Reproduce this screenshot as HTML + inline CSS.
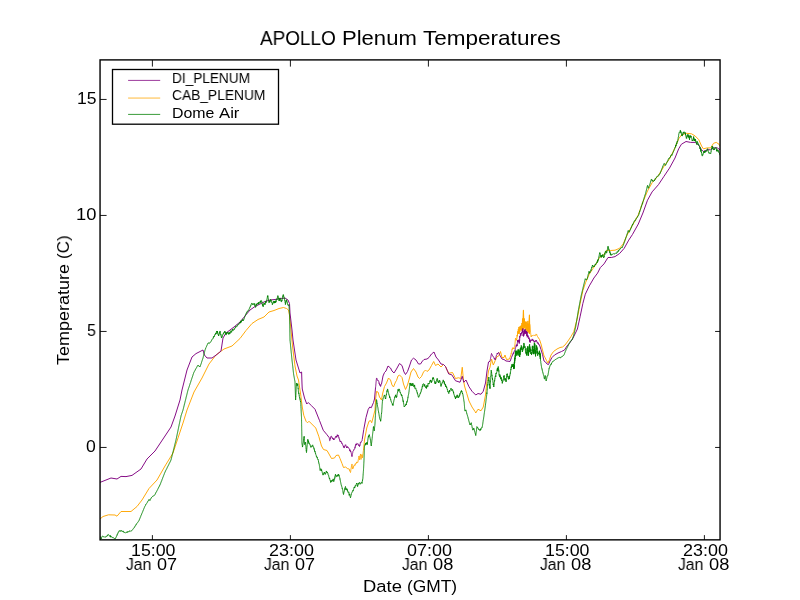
<!DOCTYPE html>
<html>
<head>
<meta charset="utf-8">
<title>APOLLO Plenum Temperatures</title>
<style>
html,body{margin:0;padding:0;background:#fff;}
body{width:800px;height:600px;position:relative;overflow:hidden;font-family:"Liberation Sans",sans-serif;color:#000;}
#fig{position:absolute;left:0;top:0;width:800px;height:600px;}
.t{position:absolute;white-space:pre;font-family:"Liberation Sans",sans-serif;color:#000;transform-origin:0 0;will-change:transform;}
svg polyline{fill:none;stroke-linejoin:round;stroke-linecap:butt;}
</style>
</head>
<body>
<svg id="fig" width="800" height="600" viewBox="0 0 800 600">
<rect x="0" y="0" width="800" height="600" fill="#ffffff"/>
<defs><clipPath id="ax"><rect x="100" y="60" width="620" height="480"/></clipPath></defs>
<g clip-path="url(#ax)" stroke-width="0.95">
<polyline stroke="#ffa500" points="100.00,519.00 103.00,516.50 108.50,514.80 115.00,515.00 117.00,516.20 121.00,511.50 131.00,511.50 137.00,506.50 142.00,500.00 149.00,488.50 157.00,480.00 165.00,466.00 173.00,453.00 183.00,423.00 187.00,410.00 194.00,392.00 202.00,378.00 209.00,364.00 216.00,355.00 224.00,349.00 232.00,346.00 240.00,338.50 246.00,330.50 252.00,323.50 258.00,319.50 264.00,317.00 269.00,312.00 274.00,310.50 279.00,308.50 283.50,307.50 286.50,308.50 288.50,310.00 289.50,315.00 291.00,330.00 292.50,346.00 295.00,366.00 297.00,376.00 298.50,380.00 300.75,395.00 302.25,407.00 303.75,415.25 306.00,421.25 307.50,422.75 309.00,421.25 312.75,425.00 315.75,428.00 318.75,436.25 321.50,446.00 323.50,449.50 327.00,450.50 329.00,454.00 331.50,458.50 334.50,458.00 336.00,455.50 338.50,455.00 340.00,458.50 342.00,463.50 343.50,467.50 345.50,467.00 347.50,468.50 347.83,468.96 348.17,468.81 348.50,468.63 348.83,469.18 349.17,469.06 349.50,470.01 349.67,470.92 349.83,470.65 350.00,471.02 350.17,471.85 350.33,472.22 350.50,472.51 350.56,471.93 350.63,471.68 350.69,471.39 350.75,470.63 350.82,470.37 350.88,469.71 350.95,469.41 351.01,468.91 351.07,468.78 351.14,468.19 351.20,468.02 351.28,467.63 351.36,467.16 351.44,466.26 351.52,466.29 351.60,465.99 351.68,465.62 351.76,464.87 351.84,464.70 351.92,464.19 352.00,463.97 352.04,464.55 352.08,464.73 352.12,465.25 352.17,465.78 352.21,466.01 352.25,466.49 352.29,466.93 352.33,467.34 352.38,467.60 352.42,468.18 352.46,468.75 352.50,468.82 352.67,468.95 352.83,468.27 353.00,467.58 353.17,468.23 353.33,467.36 353.50,466.19 353.67,466.31 353.83,466.12 354.00,465.46 354.29,465.68 354.57,464.88 354.86,465.10 355.14,465.33 355.43,463.61 355.71,463.92 356.00,463.41 356.29,463.30 356.57,462.12 356.86,462.25 357.14,462.22 357.43,462.68 357.71,462.56 358.00,461.42 358.08,460.92 358.15,460.78 358.23,459.84 358.31,459.72 358.38,459.37 358.46,459.21 358.54,458.67 358.62,458.05 358.69,457.62 358.77,457.22 358.85,457.15 358.92,456.34 359.00,455.99 359.06,456.50 359.11,456.87 359.17,457.30 359.22,457.61 359.28,458.22 359.33,458.60 359.39,459.28 359.44,459.65 359.50,460.00 359.57,459.69 359.64,459.08 359.71,458.91 359.79,458.28 359.86,457.96 359.93,457.19 360.00,457.06 360.07,456.26 360.14,455.77 360.21,455.66 360.29,455.12 360.36,454.89 360.43,454.84 360.50,453.97 360.54,454.35 360.58,454.87 360.62,455.33 360.65,455.67 360.69,456.09 360.73,456.62 360.77,457.02 360.81,457.26 360.85,457.80 360.88,458.23 360.92,458.53 360.96,459.11 361.00,459.45 361.08,459.29 361.17,458.71 361.25,458.27 361.33,457.71 361.42,457.39 361.50,456.57 361.58,456.34 361.67,456.24 361.75,455.30 361.83,455.51 361.92,454.54 362.00,454.54 362.06,454.80 362.12,455.50 362.19,455.83 362.25,456.00 362.31,456.89 362.38,457.36 362.44,457.55 362.50,457.99 362.56,457.53 362.61,456.97 362.67,456.83 362.72,456.14 362.78,455.77 362.83,455.22 362.89,454.80 362.94,454.26 363.00,454.19 363.06,453.53 363.11,453.25 363.17,452.67 363.22,452.12 363.28,451.73 363.33,451.25 363.39,450.89 363.44,450.39 363.50,450.00 364.50,440.00 366.75,428.00 369.00,421.25 370.50,420.50 371.70,422.75 373.50,416.00 375.00,410.00 375.50,400.00 376.50,391.50 378.00,392.00 379.50,397.00 381.50,400.00 382.50,394.00 384.50,386.50 386.50,383.00 388.50,378.00 390.50,380.00 392.00,385.00 393.50,387.00 395.50,382.00 396.50,380.50 398.00,376.00 399.50,375.00 402.00,377.50 403.50,384.00 405.50,389.50 407.50,385.00 409.50,378.00 411.00,372.00 413.50,368.50 416.00,372.00 418.00,377.00 419.50,378.50 421.50,376.50 423.50,372.00 425.50,370.00 427.00,371.50 429.00,370.00 431.50,365.50 433.70,361.50 435.50,365.50 438.00,364.00 441.00,367.00 443.50,364.50 445.50,366.50 447.50,371.00 448.75,373.25 452.50,372.50 455.50,378.50 458.50,377.75 460.75,378.50 462.25,367.25 463.30,378.50 464.50,386.00 466.75,393.50 469.00,401.00 472.00,407.00 475.00,411.50 475.75,413.00 478.00,409.25 481.00,410.75 483.25,407.00 485.50,395.00 487.00,381.50 488.50,371.00 490.00,367.25 491.50,359.00 493.30,365.00 495.25,360.50 496.75,356.75 498.70,356.00 500.50,351.50 502.00,357.50 504.00,357.50 505.00,355.00 506.50,359.50 509.50,359.00 511.00,354.47 511.10,353.64 511.20,353.38 511.30,353.71 511.40,352.56 511.50,352.01 511.60,352.00 511.70,351.90 511.80,350.59 511.90,350.54 512.00,349.97 512.10,349.19 512.20,349.53 512.30,348.86 512.40,348.46 512.50,347.80 512.80,348.61 513.10,347.91 513.40,348.47 513.70,347.80 514.00,348.90 514.08,348.95 514.17,348.03 514.25,347.83 514.33,347.32 514.42,346.80 514.50,346.36 514.58,346.26 514.67,345.58 514.75,345.21 514.83,344.84 514.92,344.74 515.00,344.03 515.04,343.63 515.07,343.06 515.11,342.52 515.14,342.42 515.18,341.99 515.21,341.41 515.25,341.08 515.29,340.68 515.32,340.26 515.36,339.85 515.39,339.22 515.43,339.07 515.46,338.25 515.50,338.23 515.75,338.68 516.00,339.25 516.25,340.39 516.50,338.95 516.80,339.27 517.10,334.98 517.40,336.26 517.70,331.35 518.00,333.76 518.30,329.19 518.60,333.59 518.90,326.96 519.20,333.91 519.50,327.23 519.80,331.93 520.10,326.13 520.40,329.74 520.70,325.92 521.00,330.44 521.30,325.31 521.60,330.39 521.90,323.06 522.20,330.16 522.50,318.52 522.80,329.94 523.10,319.51 523.40,329.13 523.70,318.06 524.00,325.79 524.30,318.61 524.60,328.38 524.90,321.23 525.20,326.64 525.50,321.86 525.80,330.42 526.10,325.04 526.40,329.60 526.70,321.68 527.00,331.78 527.30,323.44 527.60,331.41 527.90,320.89 528.20,332.73 528.50,324.17 528.80,332.02 529.10,323.23 529.40,334.01 529.70,324.34 529.75,324.69 529.79,325.09 529.84,325.67 529.89,326.00 529.93,326.49 529.98,326.98 530.02,327.27 530.07,327.68 530.12,328.25 530.16,328.67 530.21,329.09 530.26,329.54 530.30,329.93 530.35,330.32 530.40,330.84 530.44,331.22 530.49,331.62 530.54,332.18 530.58,332.58 530.63,333.04 530.67,333.40 530.72,333.85 530.77,334.27 530.81,334.71 530.86,335.21 530.91,335.59 530.95,336.09 531.00,336.53 531.33,336.89 531.67,335.65 532.00,336.12 532.33,335.61 532.67,335.41 533.00,335.07 533.40,335.12 533.80,335.54 534.20,335.36 534.60,335.46 535.00,335.47 535.30,335.65 535.60,335.09 535.90,334.24 536.20,334.49 536.50,334.39 536.70,334.28 536.90,335.20 537.10,335.95 537.30,336.11 537.50,336.50 539.50,339.50 541.00,344.00 542.50,350.00 544.00,356.00 545.00,357.50 546.50,360.50 548.00,363.00 549.50,359.50 551.00,355.00 553.50,351.50 557.00,349.00 560.00,347.50 562.50,347.00 565.00,345.00 568.00,341.00 571.00,336.50 573.75,331.75 577.40,318.00 580.20,303.30 582.90,290.50 585.70,282.25 589.30,274.00 593.00,268.50 596.70,263.00 599.40,257.50 603.10,255.70 606.75,250.20 610.40,250.50 615.00,250.20 619.60,248.30 623.25,243.75 626.90,235.50 629.70,230.00 633.75,223.10 638.30,214.80 642.90,202.00 647.50,191.00 652.10,182.75 658.50,175.40 664.00,166.25 669.50,158.90 675.00,147.90 678.70,138.75 681.40,135.10 686.00,133.25 691.50,133.80 695.20,136.00 698.80,139.70 701.60,146.10 703.40,148.80 707.10,147.90 710.75,147.90 713.50,143.30 716.25,142.40 719.00,144.25 720.00,146.10"/>
<polyline stroke="#ffa500" stroke-width="1.1" points="523.00,322.00 523.40,310.20 523.80,322.00"/><polyline stroke="#ffa500" stroke-width="1.1" points="529.00,324.00 529.40,315.00 529.80,332.00"/>
<polyline stroke="#800080" points="100.00,482.40 106.00,480.00 111.00,478.00 117.00,479.00 121.00,476.40 126.00,476.60 132.00,475.40 141.00,469.00 147.00,459.00 155.00,451.00 161.00,442.00 171.00,427.00 175.00,416.00 180.00,400.00 182.00,390.00 187.00,370.00 192.00,357.00 196.00,353.60 203.00,350.00 204.40,355.00 207.00,358.00 212.00,358.00 217.00,354.40 221.00,351.00 223.00,338.00 226.00,333.00 234.00,327.00 240.00,322.00 245.00,316.00 250.00,310.00 255.00,306.50 260.00,304.00 265.00,301.50 270.00,300.00 275.00,299.50 280.00,298.50 285.00,298.00 288.00,300.00 289.50,303.50 290.00,313.00 292.00,330.00 293.00,340.00 296.00,360.00 300.00,373.00 301.60,372.00 302.00,384.00 302.25,389.00 304.50,398.00 306.75,404.00 308.25,402.50 311.25,405.50 315.00,409.25 319.50,420.50 323.25,430.25 327.00,434.75 329.25,437.71 329.31,437.95 329.38,438.56 329.44,439.11 329.51,439.66 329.57,439.91 329.64,440.23 329.70,440.67 329.84,440.58 329.97,440.46 330.11,439.61 330.25,438.72 330.38,438.40 330.52,438.81 330.65,437.95 330.79,436.92 330.93,437.04 331.06,436.28 331.20,436.15 331.43,436.32 331.66,436.54 331.90,437.58 332.13,437.58 332.36,437.63 332.59,438.52 332.82,439.09 333.05,438.08 333.29,439.18 333.52,439.12 333.75,439.97 334.00,438.92 334.25,439.35 334.50,438.98 334.75,438.49 335.00,437.72 335.25,437.77 335.50,437.03 335.75,436.55 336.00,437.05 336.32,436.01 336.64,437.39 336.96,436.86 337.29,434.74 337.61,436.12 337.93,434.94 338.25,435.50 338.37,435.93 338.48,435.78 338.60,436.68 338.72,437.09 338.83,437.85 338.95,437.67 339.07,438.62 339.18,438.53 339.30,439.19 339.55,439.11 339.79,440.75 340.04,440.59 340.28,441.99 340.53,441.32 340.77,441.77 341.02,442.11 341.26,441.63 341.51,442.28 341.75,443.42 342.00,442.96 342.17,443.49 342.33,443.83 342.50,444.48 342.67,444.53 342.83,445.03 343.00,445.59 343.17,445.96 343.33,446.01 343.50,447.08 343.67,446.68 343.83,447.14 344.00,447.83 344.19,448.05 344.38,447.09 344.56,446.45 344.75,446.00 344.94,446.31 345.12,445.28 345.31,444.81 345.50,445.08 345.69,444.85 345.88,445.61 346.06,446.12 346.25,446.30 346.44,446.85 346.62,447.84 346.81,447.40 347.00,447.74 347.25,446.50 347.50,447.36 347.75,447.01 348.00,447.04 348.21,447.12 348.43,447.47 348.64,447.71 348.86,448.17 349.07,448.87 349.29,448.95 349.50,449.52 349.71,450.81 349.93,450.46 350.14,449.78 350.36,451.80 350.57,451.46 350.79,451.17 351.00,452.06 351.09,452.41 351.18,452.68 351.27,453.08 351.36,453.41 351.45,454.06 351.55,454.70 351.64,454.79 351.73,455.37 351.82,456.12 351.91,455.81 352.00,456.52 352.08,456.02 352.15,455.44 352.23,455.03 352.31,454.80 352.38,454.47 352.46,453.86 352.54,453.55 352.62,453.26 352.69,452.75 352.77,452.44 352.85,451.94 352.92,451.52 353.00,451.32 353.25,451.03 353.50,450.41 353.75,450.41 354.00,449.13 354.25,449.14 354.50,449.07 354.62,448.77 354.75,448.63 354.88,447.75 355.00,446.90 355.12,447.49 355.25,446.82 355.38,445.77 355.50,446.07 355.62,445.26 355.75,444.30 355.88,444.29 356.00,443.89 356.40,445.11 356.80,443.45 357.20,443.82 357.60,443.81 358.00,443.94 358.21,443.90 358.43,444.82 358.64,445.61 358.86,445.74 359.07,445.32 359.29,445.56 359.50,446.51 359.60,445.92 359.70,445.54 359.80,444.87 359.90,445.40 360.00,444.73 360.10,443.85 360.20,443.93 360.30,443.64 360.40,442.29 360.50,442.39 360.80,441.94 361.10,442.34 361.40,441.52 361.70,441.14 362.00,441.00 362.06,440.87 362.12,440.48 362.19,439.60 362.25,439.25 363.75,429.50 366.00,417.50 368.25,409.25 369.75,407.00 371.25,407.75 373.50,402.50 374.50,399.00 375.50,387.97 375.54,387.85 375.59,387.03 375.63,386.63 375.67,386.26 375.72,385.88 375.76,385.50 375.80,385.00 375.85,384.43 375.89,384.14 375.93,383.68 375.98,383.42 376.02,382.78 376.07,382.20 376.11,381.80 376.15,381.63 376.20,380.99 376.24,380.38 376.28,380.11 376.33,379.74 376.37,379.43 376.41,378.76 376.46,378.51 376.50,378.11 376.72,378.01 376.94,378.58 377.17,379.82 377.39,380.13 377.61,380.06 377.83,380.15 378.06,380.86 378.28,380.60 378.50,380.99 378.64,381.14 378.79,381.79 378.93,382.15 379.07,383.39 379.21,382.91 379.36,383.73 379.50,384.14 379.64,384.09 379.79,384.88 379.93,384.28 380.07,385.35 380.21,385.97 380.36,385.40 380.50,386.39 380.67,386.42 380.83,385.58 381.00,384.90 381.17,384.71 381.33,384.24 381.50,384.00 383.00,376.00 384.50,372.50 386.00,371.00 388.00,366.00 390.50,368.00 392.00,371.00 394.00,373.00 396.50,369.00 399.50,363.50 402.00,365.50 404.00,372.00 405.50,374.50 407.50,371.50 409.50,366.00 411.50,360.00 413.50,358.20 416.00,360.00 418.50,364.00 420.50,364.00 422.50,361.00 424.00,359.50 427.00,359.00 429.00,357.50 431.50,354.00 434.00,352.00 436.00,357.00 438.50,360.00 441.00,364.00 443.50,364.50 445.50,366.50 447.50,371.00 448.75,374.00 451.75,374.75 455.50,380.75 460.00,382.25 462.25,376.25 463.75,382.25 466.00,380.00 469.00,386.75 472.00,391.25 475.75,395.00 478.00,393.50 481.00,394.25 483.25,391.25 485.50,383.00 487.00,371.00 488.50,362.00 490.00,361.28 490.08,360.89 490.17,360.35 490.25,359.86 490.33,359.52 490.42,359.29 490.50,358.72 490.58,358.33 490.67,357.78 490.75,357.18 490.83,356.84 490.92,356.61 491.00,356.10 491.08,355.52 491.17,354.98 491.25,354.81 491.33,354.31 491.42,353.88 491.50,353.47 491.72,353.99 491.94,354.38 492.17,355.00 492.39,355.38 492.61,355.91 492.83,356.11 493.06,356.11 493.28,356.59 493.50,357.06 493.72,357.23 493.94,357.89 494.16,358.46 494.38,358.08 494.59,358.06 494.81,359.51 495.03,359.41 495.25,359.79 495.36,359.06 495.48,359.22 495.59,358.60 495.70,358.00 495.82,357.52 495.93,357.18 496.05,356.70 496.16,356.24 496.27,355.65 496.39,355.67 496.50,354.99 496.75,354.72 497.00,354.42 497.25,353.05 497.50,353.98 497.75,353.30 498.00,353.00 498.25,352.84 498.50,352.41 498.69,353.14 498.88,353.03 499.06,353.34 499.25,353.73 499.44,354.43 499.62,354.99 499.81,354.94 500.00,355.50 502.00,359.00 504.00,359.50 506.00,361.00 508.00,361.20 510.00,361.50 511.50,357.50 513.00,353.77 513.20,354.14 513.40,352.66 513.60,353.40 513.80,352.37 514.00,351.65 514.20,351.28 514.40,351.43 514.60,351.25 514.80,350.30 515.00,350.10 515.12,350.29 515.25,349.10 515.38,348.36 515.50,347.98 515.62,347.45 515.75,347.28 515.88,346.84 516.00,346.22 516.12,346.43 516.25,344.95 516.38,344.97 516.50,345.91 516.65,346.16 516.80,344.98 516.95,344.49 517.10,346.06 517.25,343.80 517.40,342.72 517.55,340.35 517.70,341.69 517.85,340.30 518.00,340.68 518.25,340.18 518.50,341.43 518.75,341.26 519.00,342.39 519.08,339.59 519.17,340.91 519.25,343.54 519.33,340.39 519.42,341.71 519.50,341.21 519.58,341.06 519.67,339.77 519.75,336.18 519.83,337.43 519.92,336.85 520.00,336.30 520.19,335.93 520.38,334.37 520.56,333.38 520.75,335.82 520.94,335.06 521.12,333.72 521.31,332.95 521.50,333.76 521.61,333.02 521.72,332.61 521.83,332.75 521.94,331.79 522.06,332.64 522.17,332.45 522.28,331.81 522.39,329.89 522.50,330.22 522.58,331.58 522.65,331.05 522.73,331.70 522.81,328.45 522.88,328.57 522.96,333.54 523.04,333.96 523.12,335.97 523.19,335.39 523.27,335.06 523.35,335.18 523.42,333.44 523.50,336.40 523.57,334.67 523.64,335.90 523.71,335.01 523.79,334.69 523.86,335.20 523.93,332.69 524.00,332.42 524.07,331.29 524.14,331.58 524.21,334.21 524.29,330.74 524.36,332.64 524.43,331.67 524.50,330.33 524.75,331.54 525.00,329.15 525.25,331.56 525.50,333.72 525.75,330.62 526.00,331.98 526.19,331.34 526.38,333.23 526.56,331.51 526.75,335.91 526.94,333.31 527.12,331.94 527.31,337.31 527.50,335.44 527.69,336.15 527.88,336.55 528.06,335.59 528.25,336.17 528.44,337.96 528.62,338.63 528.81,339.02 529.00,338.10 529.17,337.69 529.33,338.49 529.50,340.83 529.67,341.72 529.83,339.43 530.00,339.62 530.17,342.59 530.33,342.20 530.50,341.67 530.83,340.20 531.17,340.70 531.50,340.34 531.83,340.67 532.17,338.90 532.50,340.31 532.83,340.49 533.17,340.85 533.50,339.80 533.83,340.98 534.17,342.32 534.50,341.12 534.90,341.54 535.30,341.66 535.70,340.35 536.10,341.35 536.50,340.44 536.71,341.56 536.93,341.52 537.14,341.70 537.36,343.08 537.57,342.76 537.79,343.40 538.00,342.76 538.25,342.90 538.50,344.22 538.75,344.60 539.00,344.30 539.25,345.18 539.50,345.00 541.00,349.50 542.50,354.50 544.00,361.00 545.50,362.00 547.00,364.00 548.50,364.50 550.00,361.00 552.00,357.50 554.50,355.00 558.00,353.00 561.50,351.50 564.50,350.00 567.00,346.00 570.00,342.50 572.50,339.00 574.50,335.00 577.40,329.00 580.20,316.20 582.90,303.30 585.30,294.20 589.30,285.90 593.90,278.00 597.60,273.10 600.30,267.60 604.00,263.90 608.00,257.50 611.30,257.50 615.00,256.60 619.60,253.50 624.20,248.30 628.75,240.10 632.40,234.60 638.30,224.00 642.90,213.00 647.50,200.20 652.10,191.90 658.50,184.60 664.00,176.30 669.50,168.10 675.00,158.00 678.70,148.80 681.40,144.25 686.00,141.50 690.60,142.40 695.20,142.40 698.80,145.20 701.60,149.75 703.40,151.60 707.10,149.75 710.75,149.75 713.50,147.90 717.20,147.90 720.00,149.75"/>
<polyline stroke="#008000" points="100.50,536.57 100.58,536.64 100.67,537.38 100.75,537.69 100.83,538.12 100.92,538.56 101.00,538.89 101.17,538.54 101.33,538.01 101.50,538.37 101.67,537.38 101.83,536.85 102.00,536.47 102.44,536.32 102.89,536.24 103.33,536.53 103.78,536.89 104.22,536.69 104.67,537.17 105.11,536.82 105.56,536.95 106.00,537.14 106.25,536.85 106.50,536.22 106.75,536.01 107.00,535.91 107.25,536.02 107.50,535.04 107.75,534.74 108.00,534.61 108.33,534.47 108.67,534.95 109.00,535.64 109.33,535.81 109.67,535.92 110.00,536.40 110.33,535.45 110.67,537.08 111.00,536.90 111.41,536.55 111.82,537.37 112.23,537.65 112.64,537.39 113.05,537.31 113.45,537.83 113.86,537.94 114.27,538.58 114.68,538.49 115.09,538.43 115.50,538.57 115.68,538.06 115.87,537.52 116.05,537.44 116.24,537.04 116.42,536.48 116.61,535.97 116.79,535.78 116.97,534.82 117.16,535.09 117.34,534.66 117.53,533.81 117.71,533.78 117.89,533.17 118.08,533.13 118.26,532.15 118.45,531.99 118.63,531.94 118.82,531.64 119.00,530.77 119.42,530.79 119.83,531.05 120.25,530.69 120.67,531.42 121.08,530.42 121.50,530.84 121.90,530.63 122.30,531.69 122.70,531.39 123.10,531.47 123.50,531.20 123.90,532.59 124.30,532.46 124.70,532.66 125.10,533.00 125.50,532.84 125.91,532.43 126.31,532.23 126.72,532.09 127.12,532.70 127.53,531.57 127.94,531.73 128.34,531.68 128.75,531.73 129.16,531.71 129.56,530.93 129.97,530.61 130.38,531.07 130.78,531.36 131.19,531.05 131.59,530.72 132.00,530.48 132.25,530.19 132.50,529.75 132.75,529.56 133.00,528.95 133.25,528.74 133.50,528.34 133.75,528.09 134.00,527.68 134.25,527.69 134.50,527.17 134.75,526.81 135.00,525.89 135.25,525.80 135.50,525.40 135.75,525.23 136.00,524.42 136.25,524.62 136.50,524.24 136.75,523.51 137.00,523.20 137.25,522.87 137.50,522.65 137.75,522.39 138.00,522.25 138.25,521.54 138.50,521.34 138.75,520.88 139.00,520.56 139.17,520.17 139.34,519.82 139.51,519.14 139.69,518.82 139.86,518.34 140.03,518.18 140.20,517.67 140.37,517.15 140.54,516.72 140.71,516.41 140.89,515.87 141.06,515.43 141.23,515.17 141.40,514.97 141.57,514.26 141.74,513.81 141.91,513.33 142.09,512.90 142.26,512.69 142.43,512.31 142.60,511.80 142.77,511.42 142.94,510.98 143.11,510.57 143.29,509.98 143.46,509.68 143.63,509.33 143.80,508.81 143.97,508.43 144.14,507.98 144.31,507.62 144.49,507.34 144.66,506.78 144.83,506.40 145.00,506.04 145.24,505.71 145.47,505.48 145.71,504.55 145.94,504.60 146.18,504.02 146.41,503.73 146.65,503.45 146.88,503.10 147.12,502.71 147.35,502.20 147.59,502.03 147.82,501.37 148.06,501.01 148.29,500.76 148.53,500.18 148.76,500.20 149.00,499.56 149.25,500.17 149.50,499.99 149.75,500.18 150.00,500.51 150.17,500.16 150.33,499.60 150.50,499.29 150.67,498.83 150.83,498.59 151.00,497.96 151.33,497.92 151.67,497.29 152.00,496.93 152.33,496.69 152.67,496.30 153.00,496.28 153.33,496.16 153.67,495.70 154.00,495.50 154.33,495.41 154.67,494.85 155.00,494.51 155.21,494.07 155.42,493.50 155.62,493.41 155.83,492.69 156.04,492.61 156.25,492.12 156.46,491.88 156.67,491.32 156.88,490.83 157.08,490.59 157.29,490.07 157.50,489.73 157.71,489.36 157.92,488.94 158.12,488.54 158.33,488.06 158.54,487.75 158.75,487.09 158.96,486.96 159.17,486.43 159.38,486.33 159.58,485.96 159.79,485.14 160.00,485.00 160.16,484.57 160.32,484.05 160.48,483.80 160.65,483.27 160.81,482.72 160.97,482.46 161.13,482.05 161.29,481.66 161.45,481.10 161.61,480.87 161.77,480.46 161.94,479.85 162.10,479.48 162.26,479.12 162.42,478.65 162.58,478.47 162.74,477.89 162.90,477.35 163.06,476.95 163.23,476.61 163.39,476.43 163.55,475.76 163.71,475.37 163.87,474.99 164.03,474.51 164.19,474.33 164.35,473.62 164.52,473.33 164.68,472.86 164.84,472.48 165.00,471.96 165.20,471.82 165.40,471.18 165.60,470.80 165.80,470.28 166.00,469.91 166.20,469.67 166.40,469.32 166.60,468.90 166.80,468.55 167.00,468.09 167.20,467.60 167.40,467.31 167.60,466.87 167.80,466.39 168.00,466.09 168.20,465.76 168.40,465.23 168.60,464.76 168.80,464.49 169.00,464.24 169.20,463.57 169.40,463.19 169.60,462.78 169.80,462.55 170.00,461.77 170.20,461.65 170.40,461.35 170.60,460.70 170.80,460.59 171.00,460.01 171.11,459.53 171.22,459.15 171.33,458.58 171.43,458.22 171.54,457.96 171.65,457.33 171.76,457.09 171.87,456.52 171.98,456.16 172.09,455.66 172.20,455.05 172.30,454.74 172.41,454.36 172.52,453.83 172.63,453.38 172.74,453.07 172.85,452.56 172.96,452.05 173.07,451.69 173.17,451.37 173.28,450.83 173.39,450.50 173.50,450.11 173.61,449.57 173.72,449.05 173.83,448.60 173.93,448.26 174.04,447.89 174.15,447.41 174.26,447.00 174.37,446.49 174.48,446.11 174.59,445.62 174.70,445.19 174.80,444.69 174.91,444.23 175.02,443.88 175.13,443.40 175.24,442.97 175.35,442.66 175.46,442.17 175.57,441.95 175.67,441.37 175.78,440.82 175.89,440.49 176.00,440.01 176.09,439.52 176.18,439.20 176.27,438.64 176.36,438.06 176.45,437.87 176.55,437.34 176.64,437.04 176.73,436.47 176.82,436.00 176.91,435.73 177.00,435.13 177.09,434.78 177.18,434.42 177.27,433.90 177.36,433.45 177.45,433.02 177.55,432.63 177.64,432.09 177.73,431.75 177.82,431.31 177.91,430.98 178.00,430.38 178.09,429.91 178.18,429.57 178.27,429.07 178.36,428.67 178.45,428.23 178.55,427.86 178.64,427.30 178.73,426.90 178.82,426.31 178.91,425.98 179.00,425.70 179.09,425.12 179.18,424.68 179.27,424.21 179.36,423.89 179.45,423.43 179.55,422.91 179.64,422.59 179.73,422.13 179.82,421.72 179.91,421.20 180.00,420.91 180.09,420.39 180.18,419.92 180.27,419.46 180.36,419.04 180.45,418.67 180.55,418.16 180.64,417.81 180.73,417.35 180.82,416.96 180.91,416.49 181.00,416.00 181.13,415.42 181.27,415.23 181.40,414.87 181.53,414.42 181.67,414.05 181.80,413.56 181.93,413.16 182.07,412.71 182.20,412.53 182.33,412.01 182.47,411.55 182.60,411.08 182.73,410.79 182.87,410.53 183.00,410.01 183.11,409.51 183.22,409.23 183.33,408.80 183.43,408.33 183.54,407.88 183.65,407.48 183.76,407.00 183.87,406.58 183.98,406.03 184.09,405.76 184.20,405.23 184.30,404.93 184.41,404.20 184.52,403.96 184.63,403.55 184.74,403.02 184.85,402.64 184.96,402.23 185.07,401.78 185.17,401.26 185.28,400.86 185.39,400.51 185.50,400.09 185.61,399.57 185.72,399.14 185.83,398.71 185.93,398.34 186.04,397.75 186.15,397.29 186.26,396.97 186.37,396.44 186.48,396.04 186.59,395.66 186.70,395.25 186.80,394.70 186.91,394.41 187.02,393.78 187.13,393.52 187.24,392.93 187.35,392.52 187.46,392.22 187.57,391.71 187.67,391.25 187.78,390.84 187.89,390.47 188.00,390.00 188.14,389.58 188.28,389.26 188.42,388.68 188.56,388.28 188.70,387.86 188.84,387.60 188.98,387.16 189.12,386.77 189.26,386.23 189.40,385.80 189.53,385.47 189.67,384.94 189.81,384.63 189.95,384.21 190.09,383.66 190.23,383.29 190.37,382.87 190.51,382.62 190.65,382.29 190.79,381.62 190.93,381.21 191.07,380.58 191.21,380.39 191.35,379.95 191.49,379.44 191.63,379.19 191.77,378.55 191.91,378.26 192.05,377.87 192.19,377.33 192.33,377.10 192.47,376.70 192.60,376.06 192.74,375.64 192.88,375.40 193.02,374.93 193.16,374.40 193.30,374.07 193.44,373.66 193.58,373.24 193.72,372.91 193.86,372.45 194.00,372.07 194.22,371.80 194.44,371.32 194.67,370.98 194.89,370.63 195.11,370.15 195.33,369.50 195.56,369.40 195.78,368.90 196.00,368.73 196.22,368.12 196.44,367.80 196.67,367.38 196.89,367.18 197.11,366.58 197.33,366.13 197.56,365.82 197.78,365.33 198.00,365.01 198.29,365.28 198.57,365.62 198.86,366.23 199.14,366.06 199.43,366.44 199.71,366.68 200.00,367.02 200.14,366.48 200.27,366.12 200.41,365.77 200.55,365.41 200.68,364.95 200.82,364.50 200.95,364.06 201.09,363.77 201.23,363.45 201.36,362.94 201.50,362.52 201.64,362.13 201.77,361.59 201.91,361.24 202.05,360.84 202.18,360.48 202.32,360.04 202.45,359.52 202.59,359.33 202.73,358.97 202.86,358.38 203.00,358.01 203.11,357.60 203.21,357.22 203.32,356.63 203.42,356.43 203.53,355.86 203.63,355.57 203.74,355.06 203.84,354.60 203.95,354.20 204.05,353.86 204.16,353.31 204.26,352.92 204.37,352.49 204.47,351.98 204.58,351.78 204.68,351.31 204.79,350.84 204.89,350.51 205.00,349.97 205.18,349.58 205.35,349.37 205.53,348.87 205.71,348.10 205.88,347.57 206.06,347.41 206.24,347.24 206.41,346.65 206.59,346.27 206.76,345.95 206.94,345.37 207.12,345.08 207.29,344.74 207.47,344.29 207.65,343.87 207.82,343.34 208.00,343.03 208.40,342.91 208.80,343.26 209.20,343.51 209.60,342.85 210.00,342.91 210.23,342.55 210.46,342.28 210.69,342.00 210.92,341.62 211.15,340.96 211.38,340.58 211.62,340.49 211.85,339.77 212.08,339.70 212.31,339.12 212.54,338.88 212.77,338.49 213.00,338.17 213.24,338.23 213.47,336.52 213.71,337.09 213.94,336.50 214.18,336.35 214.41,336.65 214.65,335.16 214.88,334.46 215.12,334.07 215.35,334.01 215.59,334.42 215.82,332.88 216.06,333.96 216.29,332.94 216.53,332.19 216.76,330.99 217.00,331.65 217.22,332.47 217.44,331.10 217.67,333.58 217.89,334.28 218.11,333.73 218.33,334.22 218.56,335.96 218.78,335.50 219.00,334.90 219.10,334.59 219.20,334.14 219.30,333.74 219.40,332.54 219.50,333.28 219.60,332.37 219.70,332.26 219.80,331.75 219.90,331.72 220.00,330.97 220.10,331.17 220.20,332.06 220.30,332.79 220.40,332.64 220.50,333.65 220.60,333.71 220.70,333.88 220.80,335.02 220.90,334.66 221.00,335.72 221.10,335.64 221.20,336.40 221.30,336.27 221.40,336.84 221.50,337.92 221.60,338.03 221.76,337.62 221.92,336.97 222.08,337.04 222.24,335.66 222.40,335.40 222.56,335.52 222.72,334.76 222.88,334.43 223.04,334.36 223.20,333.93 223.36,333.48 223.52,334.09 223.68,333.34 223.84,333.06 224.00,331.99 224.29,331.90 224.57,331.40 224.86,332.72 225.14,331.53 225.43,333.20 225.71,334.73 226.00,334.79 226.25,334.83 226.50,333.01 226.75,333.75 227.00,332.36 227.25,333.31 227.50,332.21 227.75,332.64 228.00,332.37 228.33,332.76 228.67,334.40 229.00,332.48 229.33,332.20 229.67,334.10 230.00,333.50 230.31,332.15 230.62,332.46 230.92,330.69 231.23,331.58 231.54,332.32 231.85,331.07 232.15,330.29 232.46,329.17 232.77,330.59 233.08,330.70 233.38,330.19 233.69,329.56 234.00,328.83 234.31,329.46 234.62,328.35 234.94,328.00 235.25,328.07 235.56,326.49 235.88,327.10 236.19,326.75 236.50,326.66 236.81,326.78 237.12,326.08 237.44,324.76 237.75,325.10 238.06,325.03 238.38,324.69 238.69,323.75 239.00,323.79 239.29,323.90 239.57,323.50 239.86,323.03 240.14,322.00 240.43,323.12 240.71,320.88 241.00,321.60 241.29,322.29 241.57,321.04 241.86,320.88 242.14,319.98 242.43,320.70 242.71,319.29 243.00,319.52 243.17,319.87 243.33,319.87 243.50,320.56 243.65,319.78 243.79,319.53 243.94,319.26 244.09,318.76 244.24,318.54 244.38,318.23 244.53,317.55 244.68,317.09 244.82,316.68 244.97,316.30 245.12,316.15 245.26,315.51 245.41,315.24 245.56,314.72 245.71,314.14 245.85,314.10 246.00,313.38 246.28,313.17 246.56,313.42 246.83,312.07 247.11,312.14 247.39,311.20 247.67,311.30 247.94,310.57 248.22,310.69 248.50,310.46 248.68,310.14 248.86,310.13 249.04,309.40 249.21,309.10 249.39,308.52 249.57,308.08 249.75,307.53 249.93,306.88 250.11,306.98 250.29,307.00 250.46,306.30 250.64,305.64 250.82,305.83 251.00,304.87 251.30,304.18 251.60,303.39 251.90,303.44 252.20,303.95 252.50,304.60 252.80,303.99 253.10,303.37 253.40,303.99 253.70,304.58 254.00,304.76 254.12,304.68 254.25,304.57 254.38,304.02 254.50,303.57 254.60,303.43 254.70,303.68 254.80,305.17 254.90,305.50 255.00,304.94 255.10,305.98 255.20,306.31 255.30,306.90 255.40,307.18 255.50,307.42 255.67,307.22 255.83,306.81 256.00,306.31 256.17,304.90 256.33,303.87 256.50,304.72 256.67,303.86 256.83,304.53 257.00,304.21 257.33,304.04 257.67,303.19 258.00,303.40 258.33,304.28 258.67,302.16 259.00,303.59 259.33,303.15 259.67,302.48 260.00,302.44 260.30,301.08 260.60,302.54 260.90,300.47 261.20,300.43 261.50,300.87 261.62,301.61 261.75,301.44 261.88,302.27 262.00,302.19 262.12,303.53 262.25,304.28 262.38,304.01 262.50,305.03 262.62,304.99 262.75,306.09 262.88,305.63 263.00,305.66 263.21,306.71 263.43,305.19 263.64,304.18 263.86,304.10 264.07,303.05 264.29,303.74 264.50,303.18 264.88,304.86 265.25,303.91 265.62,301.46 266.00,302.84 266.10,302.38 266.20,301.49 266.30,301.71 266.40,301.32 266.50,300.64 266.60,300.31 266.70,300.26 266.80,300.17 266.90,299.78 267.00,298.85 267.10,298.72 267.20,297.74 267.30,297.73 267.40,296.83 267.50,297.01 267.60,295.90 267.70,295.58 267.80,295.50 267.88,296.09 267.95,295.99 268.03,296.67 268.10,297.29 268.18,297.75 268.25,297.90 268.32,298.59 268.40,298.93 268.48,299.82 268.55,300.03 268.62,299.96 268.70,300.16 268.77,301.21 268.85,301.94 268.93,302.11 269.00,302.73 269.25,301.77 269.50,300.70 269.75,302.21 270.00,301.34 270.25,301.53 270.50,299.43 270.75,300.47 271.00,299.91 271.14,300.78 271.27,300.55 271.41,300.95 271.55,301.37 271.68,302.63 271.82,302.47 271.95,302.51 272.09,302.80 272.23,303.20 272.36,304.77 272.50,304.28 272.61,303.76 272.72,303.98 272.83,303.81 272.94,302.88 273.06,302.88 273.17,302.48 273.28,302.18 273.39,301.41 273.50,301.41 273.75,301.51 274.00,302.95 274.25,301.10 274.50,303.13 274.75,301.64 275.00,302.72 275.19,302.96 275.38,301.75 275.56,302.18 275.75,300.84 275.94,302.16 276.12,300.78 276.31,299.68 276.50,300.03 276.65,300.07 276.80,298.83 276.95,299.08 277.10,299.46 277.25,298.46 277.40,297.62 277.55,296.94 277.70,297.12 277.85,295.66 278.00,295.73 278.08,296.23 278.17,296.52 278.25,297.80 278.33,297.73 278.42,297.80 278.50,298.16 278.58,299.09 278.67,299.10 278.75,299.59 278.83,300.16 278.92,300.63 279.00,301.02 279.12,300.71 279.25,300.88 279.38,300.69 279.50,298.77 279.62,300.35 279.75,298.84 279.88,298.98 280.00,297.90 280.15,298.60 280.30,298.95 280.45,299.29 280.60,300.07 280.75,300.36 280.90,299.93 281.05,300.78 281.20,301.61 281.35,301.99 281.50,301.97 281.60,301.51 281.70,301.14 281.80,300.39 281.90,299.90 282.00,300.50 282.10,299.39 282.20,299.14 282.30,298.43 282.40,298.74 282.50,298.48 282.60,297.37 282.70,297.21 282.80,296.34 282.90,296.82 283.00,296.10 283.10,295.06 283.20,295.38 283.30,294.55 283.41,295.10 283.52,295.48 283.63,295.50 283.74,295.96 283.85,296.81 283.95,296.96 284.06,297.03 284.17,298.58 284.28,298.13 284.39,298.40 284.50,298.94 284.58,299.65 284.67,300.15 284.75,300.35 284.83,300.95 284.92,300.65 285.00,301.41 285.08,301.79 285.17,302.36 285.25,302.92 285.33,302.56 285.42,304.56 285.50,303.91 285.60,303.75 285.70,303.53 285.80,303.13 285.90,302.51 286.00,300.96 286.10,301.22 286.20,301.50 286.30,300.48 286.40,300.03 286.50,299.71 286.62,300.95 286.75,301.07 286.88,300.89 287.00,301.63 287.12,302.06 287.25,302.04 287.38,302.82 287.50,303.45 287.62,304.00 287.75,304.72 287.88,304.61 288.00,304.87 288.33,305.59 288.67,304.73 289.00,305.49 289.02,305.97 289.05,306.35 289.07,306.80 289.09,307.25 289.11,307.62 289.14,308.11 289.16,308.54 289.18,308.95 289.20,309.40 289.23,309.79 289.25,310.17 289.27,310.67 289.30,311.08 289.32,311.58 289.34,311.99 289.36,312.39 289.39,312.84 289.41,313.32 289.43,313.75 289.45,314.15 289.48,314.58 289.50,315.00 289.51,315.44 289.52,315.91 289.53,316.34 289.54,316.79 289.54,317.21 289.55,317.64 289.56,318.09 289.57,318.56 289.58,319.05 289.59,319.49 289.60,319.89 289.61,320.32 289.62,320.82 289.62,321.26 289.63,321.67 289.64,322.17 289.65,322.59 289.66,323.07 289.67,323.49 289.68,323.95 289.69,324.38 289.70,324.80 289.71,325.26 289.71,325.70 289.72,326.18 289.73,326.58 289.74,327.02 289.75,327.52 289.76,327.97 289.77,328.43 289.78,328.86 289.79,329.25 289.79,329.72 289.80,330.17 289.81,330.62 289.82,331.02 289.83,331.52 289.84,331.97 289.85,332.39 289.86,332.86 289.87,333.33 289.88,333.75 289.88,334.22 289.89,334.67 289.90,335.10 289.91,335.54 289.92,335.97 289.93,336.46 289.94,336.86 289.95,337.31 289.96,337.78 289.96,338.20 289.97,338.67 289.98,339.13 289.99,339.56 290.00,340.00 290.04,340.49 290.09,340.93 290.13,341.25 290.18,341.71 290.22,342.29 290.27,342.69 290.31,343.00 290.36,343.48 290.40,344.00 290.44,344.39 290.49,344.91 290.53,345.34 290.58,345.81 290.62,346.16 290.67,346.70 290.71,347.22 290.76,347.51 290.80,348.07 290.84,348.50 290.89,348.92 290.93,349.33 290.98,349.72 291.02,350.18 291.07,350.71 291.11,351.17 291.16,351.62 291.20,352.05 291.24,352.49 291.29,352.87 291.33,353.27 291.38,353.79 291.42,354.25 291.47,354.67 291.51,355.03 291.56,355.53 291.60,355.92 291.64,356.45 291.69,356.83 291.73,357.33 291.78,357.80 291.82,358.23 291.87,358.74 291.91,359.05 291.96,359.44 292.00,360.02 292.05,360.52 292.10,360.96 292.15,361.33 292.20,361.78 292.25,362.20 292.30,362.55 292.35,363.03 292.40,363.53 292.45,363.91 292.50,364.49 292.55,364.72 292.60,365.23 292.65,365.76 292.70,366.09 292.75,366.50 292.80,366.92 292.85,367.40 292.90,367.97 292.95,368.34 293.00,368.78 293.05,369.16 293.10,369.68 293.15,370.07 293.20,370.45 293.25,370.91 293.30,371.39 293.35,371.88 293.40,372.25 293.45,372.72 293.50,373.25 293.55,373.52 293.60,373.97 293.67,374.50 293.75,374.88 293.82,375.26 293.89,375.71 293.97,376.08 294.04,376.57 294.12,376.92 294.19,377.44 294.26,377.70 294.34,378.15 294.41,378.64 294.48,379.02 294.56,379.53 294.63,379.89 294.71,380.27 294.78,380.76 294.85,381.12 294.93,381.45 295.00,381.96 295.01,382.34 295.03,382.82 295.04,383.33 295.06,383.88 295.07,384.27 295.09,384.87 295.10,385.25 295.12,385.49 295.13,386.17 295.15,386.55 295.16,386.78 295.18,387.31 295.19,387.86 295.20,388.18 295.22,388.72 295.23,389.08 295.25,389.56 295.26,389.87 295.28,390.40 295.29,390.74 295.31,391.31 295.32,391.44 295.34,392.15 295.35,392.71 295.37,393.06 295.38,393.42 295.40,393.93 295.41,394.19 295.42,394.63 295.44,395.13 295.45,395.60 295.47,396.18 295.48,396.38 295.50,397.06 295.51,397.17 295.53,397.71 295.54,398.25 295.56,398.84 295.57,399.05 295.59,399.29 295.60,400.02 295.62,399.56 295.64,398.94 295.67,398.51 295.69,398.12 295.71,397.80 295.73,397.45 295.76,396.66 295.78,396.82 295.80,396.00 295.82,395.50 295.84,395.23 295.87,394.69 295.89,394.61 295.91,393.96 295.93,393.28 295.96,392.83 295.98,392.37 296.00,391.95 296.02,391.67 296.04,391.01 296.07,390.93 296.09,390.22 296.11,389.76 296.13,389.49 296.16,388.58 296.18,388.30 296.20,388.10 296.22,387.56 296.24,387.12 296.27,386.74 296.29,386.13 296.31,385.76 296.33,385.12 296.36,384.59 296.38,384.65 296.40,383.63 296.74,382.99 297.07,385.89 297.41,385.35 297.75,383.72 297.79,384.07 297.83,384.61 297.87,384.84 297.91,385.62 297.95,385.96 297.99,386.39 298.03,386.98 298.07,387.40 298.11,388.10 298.14,388.46 298.18,388.13 298.22,389.18 298.26,389.14 298.30,389.50 298.34,390.44 298.38,390.54 298.42,391.07 298.46,391.83 298.50,391.92 298.59,392.05 298.69,393.04 298.78,393.88 298.88,394.01 298.97,393.50 299.06,394.35 299.16,395.01 299.25,396.39 299.34,396.36 299.44,396.78 299.53,397.37 299.62,397.13 299.72,397.92 299.81,398.36 299.91,398.14 300.00,399.01 300.09,399.71 300.19,399.41 300.28,400.69 300.38,401.11 300.47,401.67 300.56,401.29 300.66,402.13 300.75,402.57 300.77,403.07 300.79,403.26 300.82,403.87 300.84,404.50 300.86,404.70 300.88,405.21 300.90,406.01 300.93,406.03 300.95,406.46 300.97,406.76 300.99,407.25 301.01,408.04 301.04,408.22 301.06,408.49 301.08,408.97 301.10,409.57 301.12,410.13 301.15,410.33 301.17,411.00 301.19,411.25 301.21,411.83 301.24,412.29 301.26,412.75 301.28,413.02 301.30,413.51 301.32,414.06 301.35,414.21 301.37,414.88 301.39,415.38 301.41,415.91 301.43,416.17 301.46,416.59 301.48,417.08 301.50,417.48 301.51,417.93 301.52,418.44 301.52,418.87 301.53,419.18 301.54,419.70 301.55,419.97 301.56,420.71 301.56,421.02 301.57,421.55 301.58,421.86 301.59,422.41 301.59,422.91 301.60,423.42 301.61,423.62 301.62,424.30 301.63,424.64 301.63,425.02 301.64,425.60 301.65,425.97 301.66,426.42 301.67,426.82 301.67,427.36 301.68,427.79 301.69,428.22 301.70,428.58 301.71,429.08 301.71,429.62 301.72,430.15 301.73,430.47 301.74,431.06 301.74,431.37 301.75,431.70 301.76,432.33 301.77,432.61 301.78,433.20 301.78,433.71 301.79,434.02 301.80,434.49 301.81,435.20 301.82,435.42 301.82,435.87 301.83,436.37 301.84,436.72 301.85,437.17 301.86,437.67 301.86,437.83 301.87,438.67 301.88,438.86 301.89,439.31 301.89,439.92 301.90,440.32 301.91,440.63 301.92,441.23 301.93,441.54 301.93,442.03 301.94,442.40 301.95,442.92 302.01,443.56 302.07,443.92 302.13,444.43 302.19,445.06 302.26,445.20 302.32,445.45 302.38,446.02 302.44,447.07 302.50,447.00 302.57,446.68 302.64,446.10 302.71,445.80 302.79,445.44 302.86,444.85 302.93,444.36 303.00,443.71 303.07,443.25 303.14,443.29 303.21,442.98 303.29,442.62 303.36,441.87 303.43,441.12 303.50,441.06 303.56,440.77 303.63,439.63 303.69,439.97 303.75,439.46 303.82,439.39 303.88,438.03 303.95,437.54 304.01,437.80 304.07,436.51 304.14,436.43 304.20,436.20 304.22,436.54 304.23,436.84 304.25,437.51 304.27,438.11 304.28,438.46 304.30,438.89 304.32,439.21 304.33,439.90 304.35,440.20 304.37,440.70 304.38,440.77 304.40,441.46 304.42,441.69 304.43,442.33 304.45,442.73 304.47,442.98 304.48,443.59 304.50,444.47 304.75,444.42 305.00,444.29 305.25,442.08 305.50,442.95 305.55,443.14 305.59,443.90 305.64,444.60 305.68,444.84 305.73,445.16 305.77,445.30 305.82,446.14 305.86,446.39 305.91,446.39 305.95,446.87 306.00,447.66 306.05,447.95 306.09,449.04 306.14,449.05 306.18,449.21 306.23,449.78 306.27,450.75 306.32,450.53 306.36,451.41 306.41,451.75 306.45,452.45 306.50,452.54 306.54,451.97 306.58,451.74 306.62,451.19 306.65,450.95 306.69,450.28 306.73,450.30 306.77,449.38 306.81,449.06 306.85,448.37 306.88,448.11 306.92,447.64 306.96,447.23 307.00,446.96 307.04,446.19 307.08,445.68 307.12,445.68 307.15,444.92 307.19,444.39 307.23,444.36 307.27,443.83 307.31,442.62 307.35,442.69 307.38,442.51 307.42,442.08 307.46,441.33 307.50,441.18 307.57,440.27 307.65,440.04 307.73,439.74 307.80,439.25 307.93,440.18 308.07,440.73 308.20,440.49 308.33,441.80 308.47,440.92 308.60,441.63 308.73,443.25 308.87,442.66 309.00,443.32 309.22,443.00 309.44,443.55 309.67,444.09 309.89,444.75 310.11,444.64 310.33,445.38 310.56,446.40 310.78,447.31 311.00,446.53 311.40,446.94 311.80,447.05 312.20,445.37 312.60,444.87 313.00,446.20 313.15,446.95 313.30,446.84 313.45,447.36 313.60,447.23 313.75,447.46 313.90,448.54 314.05,448.21 314.20,449.58 314.35,449.34 314.50,450.03 314.62,451.08 314.75,451.48 314.88,451.17 315.00,452.04 315.12,451.75 315.25,452.31 315.38,453.05 315.50,453.81 315.62,453.57 315.75,454.36 315.88,454.63 316.00,454.81 316.20,455.35 316.40,456.57 316.60,456.17 316.80,456.87 317.00,457.43 317.20,457.04 317.40,458.43 317.60,458.97 317.80,459.42 318.00,459.10 318.09,459.32 318.19,459.73 318.28,460.12 318.38,460.52 318.47,460.99 318.56,461.89 318.66,462.44 318.75,462.34 318.84,463.15 318.94,463.06 319.03,463.73 319.12,464.00 319.22,464.27 319.31,465.14 319.41,465.59 319.50,465.98 319.56,466.36 319.61,466.73 319.67,467.31 319.72,467.68 319.78,468.27 319.83,468.47 319.89,469.15 319.94,469.64 320.00,470.29 320.25,470.57 320.50,469.66 320.75,468.73 321.00,468.78 321.15,469.40 321.30,470.38 321.45,470.87 321.60,469.58 321.75,470.70 321.90,471.26 322.05,471.38 322.20,472.28 322.35,472.62 322.50,472.96 322.60,473.39 322.70,473.34 322.80,473.92 322.90,474.34 323.00,475.14 323.19,473.81 323.38,474.15 323.56,474.27 323.75,473.48 323.94,473.54 324.12,472.42 324.31,472.60 324.50,472.08 324.60,473.05 324.70,473.01 324.80,473.62 324.90,473.61 325.00,474.02 325.19,474.42 325.38,473.55 325.56,473.60 325.75,472.86 325.94,473.20 326.12,472.96 326.31,470.96 326.50,471.28 326.69,471.60 326.88,472.00 327.06,472.08 327.25,472.87 327.44,472.32 327.62,472.89 327.81,473.25 328.00,474.03 328.14,474.76 328.27,475.10 328.41,475.37 328.55,475.43 328.68,475.41 328.82,476.61 328.95,476.93 329.09,477.41 329.23,478.22 329.36,478.03 329.50,478.48 329.64,477.97 329.79,479.51 329.93,479.66 330.08,479.77 330.22,480.61 330.37,480.43 330.51,481.02 330.66,482.41 330.80,482.13 331.00,482.22 331.20,481.78 331.40,481.39 331.60,480.79 331.80,481.66 332.00,479.99 332.30,480.81 332.60,480.25 332.90,480.34 333.20,478.87 333.50,480.65 333.70,481.67 333.90,481.33 334.10,479.84 334.30,479.79 334.50,479.54 334.58,478.86 334.65,479.06 334.73,478.00 334.81,477.65 334.88,476.76 334.96,477.31 335.04,476.56 335.12,476.49 335.19,475.47 335.27,475.35 335.35,474.87 335.42,474.47 335.50,474.27 335.67,475.39 335.83,475.43 336.00,475.08 336.17,476.05 336.33,476.66 336.50,476.63 336.79,476.67 337.07,476.31 337.36,474.95 337.64,475.56 337.93,476.32 338.21,474.02 338.50,474.51 338.67,475.28 338.83,474.76 339.00,475.70 339.17,475.45 339.33,476.33 339.50,476.89 339.59,477.21 339.69,477.75 339.78,478.24 339.88,478.70 339.97,478.57 340.06,480.04 340.16,479.99 340.25,480.22 340.34,480.78 340.44,481.46 340.53,481.55 340.62,482.14 340.72,482.57 340.81,483.26 340.91,483.37 341.00,484.05 341.12,484.53 341.25,484.78 341.38,485.67 341.50,485.67 341.62,485.68 341.75,486.60 341.88,486.96 342.00,487.32 342.12,487.83 342.25,488.96 342.38,488.66 342.50,489.03 342.58,489.37 342.65,490.14 342.73,490.26 342.81,490.51 342.88,490.84 342.96,491.66 343.04,492.13 343.12,492.03 343.19,492.64 343.27,493.38 343.35,493.89 343.42,493.78 343.50,494.47 343.59,494.31 343.68,493.54 343.77,493.15 343.86,492.72 343.95,492.11 344.05,492.06 344.14,491.72 344.23,490.85 344.32,490.84 344.41,490.70 344.50,490.02 344.61,489.92 344.72,489.04 344.83,489.28 344.94,488.19 345.06,488.67 345.17,487.52 345.28,487.04 345.39,486.60 345.50,486.48 345.56,486.84 345.62,487.25 345.69,487.75 345.75,488.37 345.81,488.85 345.88,489.06 345.94,489.79 346.00,489.77 346.25,488.95 346.50,488.62 346.75,489.71 347.00,488.85 347.11,488.93 347.22,490.19 347.33,490.72 347.44,490.99 347.56,490.46 347.67,491.34 347.78,491.99 347.89,492.14 348.00,492.12 348.30,492.53 348.60,491.78 348.90,492.44 349.20,495.36 349.50,494.06 349.60,493.97 349.70,494.36 349.80,495.33 349.90,495.42 350.00,496.17 350.10,496.21 350.20,496.74 350.30,497.27 350.40,497.30 350.50,497.86 350.58,497.29 350.67,496.99 350.75,496.70 350.83,496.32 350.92,495.90 351.00,495.62 351.08,494.86 351.17,495.00 351.25,494.74 351.33,493.92 351.42,493.46 351.50,493.25 351.75,493.09 352.00,492.45 352.25,491.88 352.50,491.17 352.75,490.55 353.00,491.08 353.15,491.07 353.30,489.77 353.45,489.76 353.60,489.48 353.75,488.82 353.90,488.29 354.05,488.03 354.20,487.00 354.35,487.37 354.50,486.95 354.71,487.85 354.93,486.81 355.14,485.72 355.36,485.56 355.57,486.19 355.79,485.77 356.00,484.54 356.40,484.22 356.80,483.00 357.20,483.98 357.25,484.39 357.30,484.71 357.35,485.53 357.40,485.36 357.45,486.06 357.50,486.54 357.62,486.28 357.75,486.37 357.88,484.85 358.00,484.72 358.12,484.65 358.25,484.29 358.38,483.73 358.50,483.31 358.88,484.22 359.25,482.40 359.62,482.65 360.00,483.34 360.40,484.21 360.80,483.35 361.20,482.32 361.47,482.23 361.73,482.53 362.00,483.42 362.07,482.99 362.15,482.96 362.22,482.32 362.29,481.69 362.36,481.28 362.44,480.78 362.51,480.90 362.58,479.77 362.65,479.87 362.73,479.08 362.80,478.96 362.83,478.37 362.87,478.27 362.90,477.70 362.93,477.65 362.97,476.71 363.00,476.28 363.03,476.08 363.07,475.64 363.10,475.10 363.13,474.44 363.17,474.48 363.20,473.93 363.23,473.48 363.27,472.91 363.30,472.65 363.33,472.06 363.37,471.71 363.40,471.25 363.43,471.02 363.47,470.36 363.50,469.99 363.52,469.67 363.54,469.15 363.57,468.69 363.59,468.23 363.61,467.92 363.63,467.32 363.65,467.00 363.67,466.73 363.70,466.12 363.72,465.57 363.74,465.09 363.76,464.79 363.78,464.21 363.80,463.74 363.83,463.39 363.85,462.92 363.87,462.69 363.89,462.02 363.91,461.90 363.93,461.22 363.96,460.88 363.98,460.50 364.00,460.00 364.02,459.62 364.03,459.03 364.05,458.48 364.06,458.23 364.08,457.66 364.09,457.32 364.11,457.01 364.12,456.48 364.14,456.00 364.16,455.52 364.17,455.16 364.19,454.73 364.20,454.17 364.22,453.89 364.23,453.34 364.25,453.01 364.27,452.52 364.28,452.20 364.30,451.75 364.31,451.24 364.33,450.80 364.34,450.41 364.36,450.05 364.38,449.59 364.39,449.07 364.41,448.65 364.42,448.32 364.44,447.60 364.45,447.35 364.47,446.79 364.48,446.55 364.50,445.91 364.69,445.54 364.88,444.61 365.06,444.86 365.25,444.93 365.44,445.06 365.62,443.01 365.81,443.11 366.00,443.90 366.24,444.02 366.48,443.58 366.72,444.29 366.96,442.12 367.20,444.60 367.26,444.09 367.32,443.32 367.39,443.42 367.45,442.60 367.51,442.08 367.57,441.96 367.63,441.49 367.69,440.87 367.76,440.51 367.82,439.81 367.88,439.35 367.94,439.39 368.00,439.04 368.06,438.41 368.13,437.96 368.19,437.36 368.25,436.98 368.43,436.12 368.60,437.20 368.77,435.57 368.95,435.72 369.12,435.13 369.30,434.62 369.40,435.78 369.50,435.51 369.60,435.83 369.70,436.54 369.80,436.66 369.90,437.38 370.00,437.52 370.10,438.42 370.20,438.70 370.30,438.71 370.40,439.88 370.50,440.01 370.55,440.22 370.61,440.93 370.66,441.37 370.71,442.07 370.77,441.98 370.82,442.74 370.88,442.98 370.93,443.55 370.98,443.81 371.04,444.28 371.09,444.81 371.14,444.92 371.20,445.17 371.25,446.00 371.30,445.48 371.35,445.14 371.40,444.80 371.45,444.21 371.50,444.03 371.55,443.37 371.60,442.96 371.65,442.65 371.70,442.17 371.75,441.61 371.80,441.21 371.85,440.62 371.90,440.21 371.95,439.90 372.00,439.59 372.05,438.93 372.10,438.72 372.15,438.48 372.20,438.08 372.25,437.26 372.30,437.01 372.35,436.49 372.40,436.09 372.45,435.55 372.50,435.17 372.55,434.80 372.60,434.26 372.65,433.75 372.70,433.41 372.75,433.03 372.80,432.73 372.85,432.15 372.90,431.79 372.95,431.48 373.00,430.63 373.05,430.32 373.10,430.04 373.15,429.51 373.20,428.90 373.25,428.83 373.30,428.21 373.35,427.61 373.40,427.71 373.45,426.71 373.50,426.50 373.57,426.76 373.64,427.36 373.70,427.87 373.77,427.95 373.84,428.53 373.91,428.94 373.98,429.14 374.05,430.06 374.11,430.23 374.18,430.53 374.25,430.97 374.29,430.51 374.34,430.15 374.38,429.61 374.43,429.44 374.47,428.39 374.51,428.01 374.56,427.88 374.60,427.18 374.65,427.03 374.69,426.49 374.74,426.25 374.78,425.78 374.82,425.48 374.87,424.98 374.91,424.59 374.96,424.03 375.00,423.54 375.02,423.12 375.05,422.57 375.07,422.06 375.10,421.63 375.12,421.38 375.15,420.63 375.17,420.48 375.19,419.94 375.22,419.67 375.24,419.17 375.27,418.63 375.29,418.28 375.31,417.59 375.34,417.44 375.36,417.02 375.39,416.33 375.41,416.20 375.44,415.65 375.46,415.25 375.48,414.64 375.51,414.43 375.53,413.99 375.56,413.49 375.58,412.95 375.60,412.70 375.63,412.32 375.65,411.79 375.68,411.42 375.70,410.81 375.73,410.46 375.75,410.02 375.78,409.59 375.81,409.50 375.84,408.75 375.88,408.19 375.91,407.93 375.94,407.24 375.97,406.99 376.00,406.61 376.03,406.01 376.06,405.59 376.09,405.08 376.12,404.78 376.16,404.24 376.19,404.11 376.22,403.53 376.25,402.98 376.28,402.39 376.31,402.40 376.34,401.87 376.38,401.32 376.41,400.85 376.44,400.41 376.47,399.89 376.50,399.64 376.57,400.00 376.64,400.04 376.71,400.65 376.79,400.63 376.86,401.82 376.93,402.28 377.00,402.95 377.07,403.45 377.14,403.20 377.21,403.92 377.29,404.48 377.36,404.86 377.43,404.97 377.50,405.71 377.57,406.07 377.64,406.70 377.71,406.80 377.79,407.18 377.86,407.54 377.93,408.00 378.00,408.45 378.07,408.87 378.14,409.50 378.21,409.92 378.29,410.55 378.36,410.92 378.43,411.24 378.50,411.25 378.57,412.08 378.64,412.65 378.71,412.49 378.79,412.97 378.86,413.43 378.93,413.84 379.00,414.45 379.07,414.72 379.14,415.47 379.21,415.51 379.29,416.20 379.36,416.54 379.43,416.86 379.50,417.63 379.63,417.95 379.77,418.57 379.90,418.64 380.03,419.47 380.17,419.85 380.30,419.96 380.43,419.73 380.57,421.19 380.70,421.29 380.75,420.85 380.80,420.41 380.84,419.95 380.89,419.52 380.94,418.87 380.99,418.59 381.03,418.21 381.08,417.61 381.13,417.11 381.18,417.14 381.23,416.49 381.27,415.89 381.32,415.41 381.37,414.61 381.42,414.37 381.46,414.13 381.51,413.95 381.56,412.93 381.61,412.72 381.65,412.72 381.70,412.07 381.75,411.52 381.78,411.21 381.81,410.61 381.84,410.16 381.87,409.82 381.89,409.40 381.92,408.72 381.95,408.60 381.98,407.76 382.01,407.44 382.04,407.46 382.07,406.58 382.10,406.28 382.12,405.64 382.15,405.28 382.18,404.79 382.21,404.38 382.24,404.07 382.27,403.76 382.30,403.21 382.33,402.85 382.36,402.16 382.38,401.95 382.41,401.40 382.44,401.06 382.47,400.40 382.50,399.98 382.67,400.27 382.83,399.49 383.00,398.83 383.17,398.03 383.33,397.90 383.50,397.76 383.67,397.46 383.83,396.43 384.00,396.11 384.17,396.06 384.33,394.91 384.50,395.10 384.60,395.41 384.70,395.77 384.80,395.42 384.90,396.08 385.00,396.66 385.10,397.21 385.20,397.44 385.30,398.32 385.40,398.64 385.50,398.98 385.58,398.02 385.67,398.55 385.75,397.67 385.83,397.50 385.92,396.73 386.00,396.50 386.08,396.27 386.17,395.73 386.25,395.51 386.33,394.78 386.42,394.96 386.50,393.84 386.58,393.43 386.67,393.43 386.75,392.68 386.83,392.21 386.92,391.43 387.00,391.83 387.08,390.56 387.17,390.80 387.25,390.30 387.33,390.07 387.42,389.81 387.50,388.93 387.61,389.16 387.71,389.75 387.82,389.72 387.93,390.98 388.04,391.01 388.14,391.62 388.25,391.62 388.36,392.42 388.46,392.64 388.57,393.25 388.68,393.35 388.79,394.47 388.89,394.35 389.00,394.65 389.15,395.68 389.30,395.65 389.45,395.78 389.60,397.72 389.75,396.96 389.90,396.77 390.05,397.50 390.20,398.35 390.35,398.48 390.50,399.13 390.61,399.76 390.72,399.47 390.83,400.16 390.94,400.78 391.06,400.78 391.17,401.15 391.28,402.03 391.39,402.26 391.50,402.25 391.69,402.54 391.88,402.99 392.06,403.53 392.25,403.57 392.44,405.11 392.62,404.18 392.81,404.48 393.00,405.51 393.08,404.49 393.15,404.38 393.23,404.38 393.31,403.46 393.38,403.16 393.46,403.23 393.54,402.64 393.62,402.12 393.69,401.74 393.77,401.09 393.85,400.92 393.92,400.36 394.00,400.28 394.12,399.78 394.25,399.03 394.38,398.72 394.50,398.34 394.62,397.38 394.75,397.18 394.88,397.66 395.00,396.12 395.12,396.02 395.25,396.21 395.38,395.98 395.50,394.85 395.67,396.11 395.83,395.65 396.00,397.03 396.17,396.90 396.33,396.94 396.50,397.56 396.59,397.21 396.68,396.40 396.76,396.76 396.85,395.64 396.94,395.61 397.03,394.72 397.12,393.91 397.21,393.66 397.29,393.50 397.38,393.27 397.47,393.13 397.56,392.22 397.65,391.68 397.74,390.98 397.82,390.87 397.91,390.52 398.00,389.42 398.25,390.88 398.50,390.48 398.75,391.22 399.00,388.87 399.15,389.41 399.30,389.80 399.45,389.59 399.60,390.20 399.75,390.54 399.90,391.63 400.05,391.99 400.20,392.81 400.35,392.41 400.50,392.76 400.69,393.61 400.88,393.95 401.06,394.49 401.25,395.20 401.44,394.53 401.62,395.69 401.81,395.04 402.00,396.01 402.10,396.62 402.20,396.75 402.30,397.26 402.40,397.13 402.50,397.78 402.60,398.44 402.70,398.40 402.80,398.91 402.90,400.39 403.00,400.02 403.08,400.22 403.16,400.61 403.23,401.65 403.31,401.04 403.39,402.09 403.47,402.76 403.55,402.90 403.62,403.61 403.70,403.65 403.78,404.34 403.86,404.80 403.94,405.22 404.02,405.69 404.09,406.10 404.17,406.81 404.25,406.90 404.56,406.11 404.88,406.13 405.19,405.86 405.50,405.79 405.63,404.75 405.77,404.58 405.90,404.86 406.03,404.07 406.17,403.77 406.30,404.74 406.43,403.61 406.57,402.66 406.70,402.08 406.83,402.52 406.97,401.22 407.10,401.66 407.23,400.99 407.37,400.92 407.50,399.93 407.58,399.78 407.66,398.65 407.74,398.66 407.82,398.56 407.89,398.04 407.97,396.96 408.05,397.20 408.13,396.71 408.21,396.16 408.29,395.56 408.37,395.26 408.45,394.76 408.53,394.74 408.61,394.19 408.68,393.93 408.76,393.41 408.84,392.47 408.92,392.42 409.00,392.10 409.05,391.35 409.10,391.17 409.14,390.55 409.19,390.11 409.24,389.87 409.29,389.56 409.33,389.11 409.38,388.63 409.43,388.28 409.48,387.41 409.52,387.40 409.57,386.90 409.62,386.37 409.67,385.97 409.71,385.40 409.76,385.32 409.81,384.56 409.86,384.00 409.90,383.83 409.95,383.30 410.00,382.95 410.25,384.36 410.50,383.46 410.75,383.99 411.00,385.92 411.25,383.51 411.50,385.06 411.80,385.60 412.10,385.60 412.40,385.94 412.70,383.10 413.00,383.55 413.11,383.80 413.22,384.06 413.33,384.35 413.44,384.47 413.56,385.52 413.67,386.06 413.78,385.78 413.89,386.84 414.00,386.81 414.30,386.17 414.60,384.91 414.90,388.48 415.20,388.33 415.50,387.94 415.65,388.16 415.80,388.15 415.95,389.38 416.10,389.51 416.25,390.19 416.40,390.42 416.55,390.10 416.70,390.43 416.85,391.74 417.00,391.79 417.13,392.48 417.26,393.16 417.39,392.72 417.52,393.91 417.65,394.09 417.78,394.71 417.92,394.67 418.05,395.34 418.18,395.94 418.31,396.92 418.44,396.91 418.57,397.24 418.70,397.31 418.84,397.23 418.99,396.38 419.13,396.27 419.28,396.04 419.42,395.97 419.57,395.41 419.71,394.84 419.86,394.34 420.00,394.18 420.15,393.17 420.30,393.20 420.45,393.41 420.60,392.29 420.75,392.36 420.90,391.99 421.05,392.09 421.20,391.30 421.35,389.62 421.50,390.00 421.61,389.65 421.71,389.40 421.82,388.83 421.93,388.89 422.04,388.20 422.14,387.02 422.25,386.77 422.36,385.87 422.46,386.69 422.57,385.65 422.68,385.21 422.79,384.30 422.89,384.25 423.00,384.09 423.30,383.73 423.60,383.93 423.90,383.92 424.20,386.48 424.50,384.88 424.69,384.46 424.88,385.37 425.06,385.83 425.25,386.35 425.44,386.64 425.62,386.51 425.81,387.41 426.00,388.04 426.21,386.60 426.43,388.46 426.64,387.92 426.86,385.26 427.07,385.85 427.29,386.39 427.50,385.81 427.80,386.61 428.10,383.10 428.40,383.45 428.70,383.68 429.00,384.05 429.15,383.02 429.30,383.32 429.45,382.93 429.60,382.65 429.75,381.32 429.90,381.61 430.05,381.15 430.20,380.53 430.35,380.93 430.50,379.93 430.67,381.05 430.83,380.47 431.00,382.01 431.17,382.40 431.33,381.62 431.50,382.52 431.62,382.16 431.75,381.24 431.88,381.51 432.00,381.02 432.12,380.04 432.25,380.00 432.38,379.89 432.50,379.07 432.62,378.43 432.75,378.93 432.88,377.50 433.00,377.54 433.17,378.42 433.33,378.64 433.50,377.68 433.67,378.85 433.83,379.34 434.00,379.69 434.17,380.51 434.33,380.86 434.50,381.01 434.62,381.47 434.75,382.16 434.88,382.63 435.00,381.68 435.12,383.78 435.25,383.00 435.38,383.94 435.50,383.80 435.63,383.36 435.76,382.65 435.89,383.15 436.02,382.65 436.15,381.88 436.28,381.39 436.42,381.18 436.55,380.24 436.68,379.94 436.81,379.46 436.94,379.66 437.07,378.93 437.20,378.35 437.32,379.03 437.44,379.51 437.55,380.24 437.67,379.92 437.79,380.69 437.91,381.73 438.03,381.24 438.15,381.63 438.26,382.37 438.38,382.40 438.50,383.00 438.62,382.41 438.75,381.91 438.88,382.24 439.00,381.33 439.12,380.69 439.25,380.62 439.38,380.31 439.50,380.03 439.61,380.73 439.71,381.44 439.82,380.87 439.93,381.62 440.04,381.53 440.14,382.64 440.25,383.16 440.36,383.20 440.46,383.54 440.57,383.94 440.68,384.20 440.79,385.34 440.89,386.19 441.00,385.85 441.12,386.29 441.25,385.18 441.38,384.27 441.50,384.71 441.62,384.42 441.75,383.89 441.88,383.24 442.00,383.36 442.25,382.40 442.50,382.76 442.75,382.44 443.00,380.93 443.25,379.88 443.50,380.72 443.67,381.15 443.83,381.92 444.00,381.21 444.17,382.14 444.33,383.69 444.50,382.37 444.67,383.92 444.83,384.25 445.00,384.62 445.19,383.98 445.38,385.39 445.56,384.77 445.75,386.72 445.94,385.82 446.12,386.91 446.31,386.61 446.50,387.52 446.69,386.94 446.88,388.36 447.06,388.92 447.25,388.99 447.39,390.05 447.52,389.93 447.66,390.52 447.80,390.81 447.93,391.79 448.07,391.14 448.20,391.71 448.34,392.14 448.48,392.90 448.61,393.16 448.75,393.61 448.92,393.18 449.08,392.37 449.25,392.18 449.42,392.00 449.58,390.26 449.75,391.64 449.92,390.27 450.08,389.95 450.25,389.80 450.62,389.38 451.00,388.20 451.38,389.25 451.75,390.66 452.12,390.27 452.50,389.44 452.62,389.47 452.75,390.02 452.88,390.93 453.00,391.51 453.12,391.36 453.25,391.38 453.38,391.41 453.50,393.14 453.62,392.40 453.75,393.58 453.88,394.17 454.00,394.66 454.14,394.73 454.27,395.01 454.41,395.66 454.55,396.09 454.68,396.86 454.82,396.99 454.95,396.78 455.09,396.62 455.23,398.05 455.36,398.05 455.50,398.96 455.67,397.68 455.83,398.01 456.00,397.14 456.17,396.65 456.33,397.49 456.50,396.33 456.67,395.74 456.83,395.78 457.00,394.81 457.26,395.03 457.51,395.13 457.77,397.55 458.03,396.55 458.29,397.11 458.54,397.82 458.80,397.22 458.95,396.80 459.10,395.69 459.25,396.36 459.40,395.88 459.55,395.17 459.70,395.60 459.85,393.74 460.00,394.29 460.17,393.38 460.33,393.04 460.50,392.93 460.67,393.02 460.83,391.77 461.00,391.42 461.17,390.93 461.33,391.58 461.50,390.54 461.64,391.02 461.77,391.91 461.91,391.80 462.05,391.53 462.18,392.40 462.32,392.61 462.45,393.94 462.59,393.37 462.73,394.27 462.86,394.44 463.00,394.98 463.07,395.44 463.14,395.86 463.21,396.21 463.28,396.57 463.35,397.10 463.42,397.48 463.49,397.94 463.56,398.55 463.64,398.94 463.71,399.49 463.78,399.81 463.85,400.60 463.92,400.62 463.99,401.02 464.06,401.78 464.13,401.94 464.20,402.50 464.23,403.02 464.26,403.36 464.29,403.77 464.33,404.32 464.36,404.70 464.39,405.06 464.42,405.43 464.45,405.94 464.48,406.26 464.52,406.76 464.55,407.18 464.58,407.74 464.61,408.21 464.64,408.52 464.67,408.97 464.71,409.35 464.74,409.76 464.77,410.28 464.80,410.85 465.10,410.84 465.40,410.73 465.70,410.00 466.00,409.81 466.11,410.64 466.21,411.15 466.32,411.49 466.43,411.92 466.54,412.39 466.64,413.18 466.75,413.07 466.86,413.78 466.96,414.04 467.07,414.44 467.18,414.68 467.29,415.06 467.39,415.31 467.50,416.04 467.62,416.32 467.73,416.50 467.85,417.02 467.96,417.31 468.08,418.42 468.19,418.36 468.31,418.85 468.42,418.92 468.54,419.37 468.65,420.30 468.77,420.38 468.88,420.90 469.00,421.40 469.13,422.25 469.27,422.27 469.40,422.63 469.53,422.98 469.67,423.25 469.80,424.31 469.93,423.83 470.07,424.56 470.20,424.78 470.38,424.15 470.55,424.40 470.73,424.05 470.90,423.63 471.07,423.00 471.25,422.71 471.34,423.09 471.43,423.56 471.51,424.28 471.60,424.79 471.69,425.04 471.78,425.29 471.87,425.66 471.96,426.34 472.04,426.68 472.13,426.81 472.22,427.86 472.31,428.04 472.40,428.42 472.49,428.76 472.57,429.20 472.66,429.98 472.75,430.14 472.93,429.91 473.10,429.74 473.27,429.81 473.45,428.98 473.62,428.36 473.80,427.97 473.91,428.62 474.02,429.07 474.12,429.15 474.23,429.80 474.34,430.05 474.45,430.12 474.56,430.68 474.67,431.52 474.77,432.09 474.88,432.33 474.99,432.54 475.10,432.83 475.21,433.54 475.32,433.91 475.43,433.87 475.53,434.82 475.64,434.92 475.75,435.53 475.81,435.15 475.86,434.74 475.92,434.36 475.98,433.88 476.04,433.21 476.09,432.79 476.15,432.64 476.21,432.14 476.26,431.43 476.32,430.94 476.38,430.91 476.44,430.67 476.49,430.04 476.55,429.47 476.61,429.11 476.66,428.27 476.72,428.08 476.78,427.93 476.84,427.48 476.89,426.63 476.95,426.66 477.18,427.12 477.40,427.67 477.62,427.54 477.85,428.00 478.07,427.89 478.30,428.90 478.52,429.53 478.75,429.32 479.12,429.92 479.50,429.55 479.88,430.71 480.25,430.39 480.49,428.76 480.74,429.72 480.98,429.61 481.23,428.49 481.47,428.27 481.71,427.93 481.96,427.08 482.20,427.24 482.27,427.05 482.34,426.44 482.40,426.16 482.47,425.63 482.54,425.22 482.61,424.61 482.68,424.27 482.75,424.02 482.81,423.49 482.88,422.87 482.95,422.27 483.02,421.79 483.09,421.53 483.15,421.11 483.22,420.32 483.29,420.19 483.36,419.77 483.43,419.32 483.50,418.75 483.56,418.74 483.63,418.08 483.70,417.44 483.76,416.96 483.82,416.74 483.89,416.26 483.95,415.77 484.01,415.31 484.07,414.84 484.14,414.37 484.20,413.85 484.26,413.64 484.32,412.72 484.39,412.58 484.45,412.43 484.51,411.70 484.57,411.20 484.64,411.21 484.70,410.65 484.76,410.04 484.82,409.54 484.89,409.15 484.95,408.69 485.01,408.27 485.07,407.76 485.14,407.51 485.20,406.98 485.26,406.31 485.31,405.94 485.37,405.66 485.42,405.08 485.48,404.45 485.53,404.52 485.59,403.95 485.64,403.37 485.70,402.92 485.76,402.61 485.81,402.28 485.87,401.58 485.92,401.27 485.98,400.69 486.03,400.37 486.09,399.73 486.14,399.20 486.20,399.00 486.26,398.54 486.31,398.20 486.37,397.57 486.42,397.39 486.48,396.78 486.53,396.53 486.59,395.83 486.64,395.63 486.70,394.98 486.74,394.59 486.79,394.46 486.83,393.00 486.88,392.83 486.92,393.47 486.96,391.79 487.01,391.73 487.05,391.68 487.09,391.58 487.14,390.41 487.18,390.21 487.23,389.30 487.27,389.14 487.31,389.23 487.36,388.53 487.40,387.96 487.44,387.70 487.49,387.15 487.53,386.73 487.57,386.10 487.62,385.43 487.66,385.60 487.71,384.49 487.75,384.64 487.81,385.05 487.87,384.31 487.94,384.25 488.00,382.21 488.06,382.39 488.12,381.44 488.18,381.04 488.24,380.13 488.31,379.93 488.37,380.47 488.43,379.96 488.49,379.76 488.55,379.28 488.61,378.68 488.68,377.48 488.74,377.37 488.80,377.08 488.84,377.90 488.89,377.74 488.93,378.14 488.98,378.61 489.02,379.81 489.07,379.87 489.11,379.99 489.16,380.27 489.20,381.16 489.24,380.82 489.29,381.80 489.33,382.12 489.38,382.56 489.42,383.29 489.47,383.82 489.51,385.23 489.56,384.59 489.60,385.26 489.64,385.15 489.69,385.28 489.73,386.76 489.78,387.50 489.82,386.86 489.87,387.64 489.91,388.53 489.96,388.59 490.00,388.80 490.03,388.83 490.06,388.07 490.09,387.86 490.11,386.95 490.14,387.01 490.17,386.61 490.20,385.68 490.23,385.57 490.26,384.81 490.29,384.40 490.31,383.85 490.34,383.53 490.37,383.02 490.40,383.08 490.43,382.25 490.46,381.55 490.49,381.79 490.51,381.12 490.54,380.79 490.57,380.06 490.60,379.82 490.63,379.16 490.66,378.48 490.69,378.32 490.71,377.88 490.74,377.44 490.77,377.18 490.80,376.03 490.83,376.14 490.86,375.40 490.89,375.09 490.91,374.84 490.94,374.29 490.97,373.65 491.00,373.59 491.03,372.92 491.06,372.75 491.09,372.38 491.11,371.50 491.14,370.86 491.17,370.73 491.20,370.38 491.27,370.88 491.34,370.57 491.40,370.74 491.47,371.57 491.54,372.01 491.61,373.25 491.68,373.41 491.75,374.27 491.81,374.22 491.88,375.56 491.95,375.16 492.02,375.88 492.09,375.83 492.15,376.71 492.22,377.48 492.29,377.77 492.36,378.46 492.43,377.95 492.50,378.93 492.56,380.01 492.63,379.72 492.70,379.99 492.77,380.34 492.83,380.61 492.90,381.38 492.96,382.43 493.03,382.38 493.09,382.55 493.16,382.58 493.23,382.83 493.29,385.05 493.36,384.01 493.42,384.73 493.49,384.85 493.55,385.60 493.62,385.72 493.68,386.41 493.75,386.97 493.81,385.99 493.88,386.15 493.94,385.43 494.00,385.37 494.06,384.26 494.12,384.34 494.19,383.24 494.25,382.41 494.31,382.21 494.38,381.94 494.44,381.42 494.50,381.36 494.56,381.60 494.62,380.09 494.69,380.41 494.75,379.83 494.81,378.98 494.88,378.44 494.94,378.64 495.00,378.23 495.06,377.40 495.12,377.06 495.19,376.68 495.25,375.83 495.42,375.95 495.58,375.75 495.75,376.89 495.92,373.21 496.08,373.23 496.25,373.84 496.42,372.70 496.58,372.48 496.75,372.50 496.86,371.85 496.96,371.62 497.07,371.54 497.18,369.59 497.29,370.77 497.39,368.27 497.50,370.75 497.61,369.75 497.71,368.20 497.82,368.97 497.93,367.68 498.04,367.68 498.14,367.49 498.25,366.54 498.30,366.93 498.35,367.61 498.40,367.71 498.45,368.07 498.50,368.27 498.55,368.35 498.60,370.14 498.65,370.25 498.70,369.80 498.75,370.95 498.80,371.30 498.85,370.76 498.90,371.74 498.95,372.46 499.00,373.63 499.05,373.81 499.10,374.30 499.15,374.35 499.20,375.05 499.25,374.61 499.30,375.88 499.65,376.76 500.00,374.73 500.10,375.60 500.20,376.94 500.30,377.63 500.40,377.66 500.50,376.51 500.60,377.36 500.70,377.45 500.80,379.13 500.90,378.01 501.00,378.62 501.19,377.37 501.38,380.05 501.56,380.73 501.75,379.79 501.94,379.97 502.12,381.07 502.31,383.38 502.50,381.71 502.61,381.57 502.71,381.33 502.82,381.02 502.93,381.24 503.04,380.50 503.14,379.66 503.25,380.11 503.36,379.44 503.46,378.39 503.57,377.92 503.68,376.46 503.79,376.99 503.89,375.89 504.00,375.76 504.10,376.23 504.20,375.57 504.30,376.58 504.40,377.26 504.50,378.28 504.60,378.19 504.70,379.12 504.80,380.38 504.90,380.22 505.00,379.57 505.20,378.19 505.40,379.67 505.60,380.10 505.80,379.11 506.00,381.78 506.06,380.83 506.11,380.86 506.17,381.27 506.22,380.94 506.28,379.34 506.33,379.13 506.39,378.30 506.44,377.74 506.50,377.95 506.56,377.55 506.61,376.82 506.67,376.91 506.72,376.05 506.78,376.21 506.83,375.09 506.89,375.22 506.94,374.32 507.00,374.01 507.12,374.87 507.25,373.63 507.38,374.55 507.50,375.53 507.62,375.77 507.75,376.64 507.88,376.15 508.00,376.13 508.12,377.58 508.25,378.33 508.38,377.82 508.50,379.34 508.65,379.21 508.80,378.97 508.95,378.51 509.10,376.45 509.25,379.08 509.40,375.81 509.55,376.52 509.70,376.48 509.85,375.70 510.00,375.02 510.07,374.13 510.14,373.92 510.21,373.73 510.29,373.97 510.36,372.51 510.43,372.80 510.50,372.24 510.57,371.63 510.64,370.87 510.71,370.66 510.79,369.40 510.86,369.94 510.93,369.63 511.00,368.76 511.07,368.88 511.14,368.35 511.21,367.37 511.29,367.77 511.36,366.62 511.43,367.74 511.50,365.53 511.75,364.47 512.00,364.43 512.25,365.54 512.50,366.74 512.75,364.63 513.00,363.88 513.10,366.89 513.20,366.18 513.30,364.96 513.40,365.57 513.50,364.19 513.60,366.55 513.70,369.05 513.80,365.84 513.90,365.92 514.00,368.08 514.04,364.66 514.09,368.95 514.13,364.89 514.17,365.43 514.22,365.70 514.26,366.96 514.30,365.51 514.35,362.20 514.39,362.02 514.43,363.95 514.48,360.63 514.52,362.44 514.57,361.33 514.61,362.92 514.65,362.99 514.70,357.90 514.74,361.14 514.78,360.96 514.83,358.77 514.87,358.54 514.91,357.35 514.96,357.98 515.00,358.14 515.06,359.20 515.12,358.89 515.19,356.29 515.25,355.17 515.31,357.02 515.38,351.88 515.44,353.14 515.50,355.26 515.56,356.80 515.62,352.60 515.69,353.27 515.75,351.31 515.81,352.17 515.88,351.73 515.94,350.45 516.00,351.13 516.10,351.14 516.20,352.39 516.30,351.91 516.40,351.06 516.50,353.14 516.60,354.44 516.70,352.79 516.80,355.85 516.90,355.14 517.00,354.86 517.08,354.61 517.17,353.62 517.25,352.60 517.33,354.46 517.42,354.03 517.50,351.92 517.58,351.84 517.67,351.39 517.75,352.11 517.83,352.65 517.92,349.58 518.00,350.11 518.11,350.40 518.21,351.55 518.32,353.09 518.43,350.62 518.54,349.57 518.64,352.36 518.75,351.00 518.86,355.52 518.96,352.99 519.07,353.94 519.18,355.03 519.29,355.41 519.39,355.05 519.50,356.00 519.56,356.75 519.61,354.74 519.67,357.00 519.72,354.68 519.78,350.85 519.83,354.47 519.89,350.71 519.94,352.89 520.00,354.85 520.06,352.93 520.11,349.72 520.17,349.68 520.22,350.28 520.28,351.63 520.33,348.45 520.39,350.31 520.44,348.86 520.50,347.97 520.75,347.58 521.00,349.64 521.25,345.40 521.50,346.58 521.60,348.56 521.70,349.08 521.80,346.61 521.90,347.48 522.00,347.59 522.10,350.12 522.20,349.01 522.30,352.01 522.40,351.60 522.50,351.11 522.60,350.85 522.70,350.84 522.80,350.79 522.90,349.31 523.00,349.18 523.10,349.42 523.20,347.91 523.30,348.81 523.40,346.96 523.50,345.73 523.60,346.50 523.70,347.90 523.80,347.27 523.90,342.96 524.00,344.62 524.12,344.32 524.23,344.96 524.35,345.35 524.46,345.92 524.58,345.97 524.69,346.70 524.81,347.75 524.92,346.38 525.04,346.77 525.15,347.33 525.27,347.74 525.38,350.32 525.50,349.59 525.60,350.30 525.70,350.88 525.80,352.09 525.90,351.63 526.00,353.32 526.10,352.33 526.20,353.11 526.30,354.15 526.40,351.77 526.50,354.15 526.58,355.47 526.67,353.31 526.75,352.45 526.83,354.71 526.92,352.05 527.00,353.04 527.08,348.11 527.17,350.80 527.25,349.62 527.33,350.31 527.42,350.90 527.50,348.94 527.57,349.15 527.64,346.33 527.71,351.27 527.79,352.38 527.86,351.33 527.93,350.98 528.00,352.46 528.07,353.72 528.14,353.67 528.21,355.89 528.29,353.02 528.36,352.45 528.43,355.19 528.50,355.48 528.54,354.00 528.59,354.14 528.63,352.90 528.67,351.69 528.72,351.91 528.76,349.81 528.80,352.30 528.85,352.10 528.89,352.19 528.93,349.62 528.98,349.42 529.02,347.68 529.07,347.52 529.11,350.02 529.15,352.00 529.20,346.71 529.24,347.11 529.28,348.33 529.33,345.86 529.37,347.02 529.41,345.48 529.46,345.05 529.50,345.34 529.56,345.11 529.62,344.28 529.69,347.33 529.75,346.77 529.81,346.49 529.88,346.61 529.94,348.78 530.00,347.59 530.06,349.08 530.12,350.62 530.19,349.67 530.25,351.61 530.31,348.96 530.38,351.88 530.44,352.22 530.50,352.70 530.67,352.44 530.83,353.95 531.00,353.05 531.17,352.34 531.33,352.98 531.50,354.23 531.56,355.03 531.62,352.64 531.68,353.23 531.74,353.86 531.79,353.84 531.85,353.02 531.91,353.28 531.97,349.55 532.03,349.92 532.09,350.48 532.15,351.04 532.21,349.83 532.26,347.81 532.32,348.09 532.38,345.82 532.44,348.45 532.50,346.33 532.56,347.71 532.62,349.22 532.69,349.44 532.75,346.73 532.81,349.46 532.88,349.19 532.94,349.69 533.00,352.55 533.06,351.30 533.12,349.58 533.19,350.46 533.25,353.14 533.31,352.97 533.38,351.71 533.44,351.46 533.50,353.79 533.55,353.02 533.60,354.16 533.64,351.94 533.69,353.11 533.74,353.36 533.79,349.41 533.83,350.25 533.88,352.50 533.93,349.57 533.98,349.68 534.02,350.47 534.07,347.88 534.12,347.88 534.17,345.90 534.21,348.23 534.26,346.50 534.31,346.21 534.36,343.03 534.40,347.03 534.45,346.25 534.50,344.69 534.55,346.92 534.59,342.74 534.64,346.15 534.68,344.56 534.73,350.51 534.77,344.26 534.82,346.43 534.86,347.44 534.91,349.82 534.95,350.28 535.00,350.16 535.05,349.79 535.09,353.21 535.14,350.06 535.18,351.79 535.23,354.02 535.27,350.71 535.32,351.67 535.36,354.50 535.41,354.12 535.45,352.33 535.50,354.49 535.55,356.40 535.60,353.24 535.65,354.14 535.70,352.87 535.75,351.42 535.80,353.88 535.85,352.65 535.90,352.51 535.95,350.39 536.00,350.28 536.05,350.01 536.10,349.86 536.15,348.44 536.20,347.82 536.25,349.67 536.30,346.22 536.35,346.61 536.40,346.27 536.45,345.67 536.50,345.51 536.55,345.36 536.60,347.76 536.64,346.72 536.69,346.68 536.74,350.13 536.79,346.79 536.83,350.19 536.88,349.76 536.93,348.05 536.98,349.67 537.02,350.11 537.07,352.65 537.12,352.61 537.17,351.54 537.21,350.84 537.26,350.62 537.31,352.96 537.36,351.84 537.40,353.81 537.45,354.20 537.50,355.11 537.67,355.72 537.83,354.19 538.00,354.23 538.17,353.00 538.33,354.11 538.50,352.77 538.75,354.14 539.00,353.62 539.25,350.72 539.50,350.92 539.55,352.62 539.60,353.67 539.65,351.82 539.70,354.97 539.75,353.63 539.80,353.82 539.85,354.81 539.90,353.02 539.95,353.14 540.00,355.19 540.05,354.57 540.10,356.45 540.15,356.89 540.20,354.09 540.25,356.73 540.30,358.82 540.35,355.66 540.40,358.58 540.45,357.73 540.50,359.85 540.56,360.67 540.62,361.10 540.69,361.18 540.75,361.60 540.81,362.48 540.88,362.88 540.94,363.03 541.00,363.67 541.06,363.93 541.12,364.27 541.19,364.93 541.25,365.12 541.31,365.79 541.38,366.04 541.44,366.42 541.50,366.92 541.60,367.52 541.70,368.09 541.80,368.31 541.90,368.23 542.00,369.17 542.10,369.02 542.20,369.34 542.30,370.08 542.40,370.85 542.50,371.06 542.60,371.56 542.70,372.26 542.80,372.47 542.90,372.42 543.00,373.24 543.10,373.26 543.20,373.90 543.30,374.37 543.40,374.53 543.50,374.83 543.60,375.31 543.70,375.65 543.80,376.12 543.90,376.41 544.00,376.55 544.10,376.78 544.20,378.01 544.30,378.45 544.40,378.71 544.50,378.99 544.59,379.13 544.67,378.30 544.76,377.67 544.85,377.48 544.94,376.77 545.03,376.57 545.11,376.00 545.20,375.52 545.28,375.92 545.35,376.27 545.43,376.83 545.51,377.34 545.58,377.48 545.66,377.96 545.74,378.30 545.82,379.00 545.89,379.27 545.97,379.85 546.05,380.04 546.12,380.69 546.20,380.97 546.28,380.52 546.36,380.27 546.44,379.73 546.52,379.30 546.60,379.13 546.68,378.58 546.76,378.38 546.84,378.18 546.92,377.31 547.00,376.96 547.20,376.11 547.40,375.82 547.60,375.98 547.80,375.48 548.00,375.01 548.07,374.63 548.14,374.03 548.21,373.49 548.29,373.42 548.36,372.88 548.43,372.57 548.50,371.99 548.57,371.67 548.64,371.07 548.71,370.71 548.79,370.26 548.86,369.90 548.93,369.61 549.00,369.04 549.14,367.92 549.27,368.15 549.41,367.77 549.55,367.54 549.68,366.98 549.82,366.38 549.95,365.95 550.09,365.64 550.23,365.15 550.36,365.23 550.50,364.58 550.78,364.18 551.06,364.24 551.33,364.43 551.61,363.06 551.89,362.81 552.17,362.36 552.44,361.62 552.72,361.55 553.00,361.46 553.33,361.29 553.67,361.01 554.00,360.79 554.33,360.27 554.67,360.25 555.00,359.69 555.33,359.53 555.67,359.47 556.00,359.05 556.38,358.97 556.75,358.94 557.12,358.59 557.50,358.21 557.88,358.03 558.25,357.76 558.62,357.72 559.00,357.47 559.40,357.41 559.80,357.35 560.20,357.25 560.60,357.87 561.00,357.54 561.33,356.91 561.67,357.01 562.00,356.58 562.33,356.07 562.67,356.08 563.00,355.86 563.33,355.64 563.67,355.44 564.00,354.98 564.15,354.60 564.30,354.25 564.45,353.84 564.60,353.43 564.75,353.01 564.90,352.69 565.05,352.11 565.20,351.69 565.35,351.53 565.50,351.01 565.69,350.72 565.88,350.25 566.08,349.81 566.27,349.42 566.46,349.09 566.65,348.65 566.85,348.30 567.04,347.92 567.23,347.62 567.42,347.23 567.62,346.92 567.81,346.32 568.00,346.00 568.19,345.71 568.38,345.27 568.58,344.62 568.77,344.50 568.96,344.08 569.15,343.65 569.35,343.27 569.54,342.86 569.73,342.65 569.92,342.22 570.12,341.79 570.31,341.50 570.50,341.04 570.80,340.69 571.10,340.46 571.40,340.26 571.70,340.32 572.00,340.00 572.15,339.70 572.30,339.25 572.45,338.79 572.60,338.31 572.75,337.99 572.90,337.77 573.05,337.16 573.20,336.75 573.35,336.39 573.50,336.02 573.60,335.58 573.70,335.11 573.80,334.72 573.90,334.32 574.00,333.91 574.10,333.54 574.20,333.20 574.30,332.72 574.40,332.27 574.50,331.81 574.60,331.35 574.70,331.01 574.80,330.62 574.90,330.18 575.00,329.71 575.10,329.34 575.20,328.87 575.30,328.45 575.40,328.03 575.50,327.63 575.60,327.20 575.67,326.81 575.74,326.34 575.81,325.90 575.88,325.51 575.96,325.06 576.03,324.64 576.10,324.13 576.17,323.78 576.24,323.30 576.31,322.82 576.38,322.42 576.45,321.95 576.52,321.52 576.59,321.11 576.67,320.73 576.74,320.20 576.81,319.83 576.88,319.38 576.95,319.01 577.02,318.53 577.09,318.11 577.16,317.70 577.23,317.17 577.31,316.77 577.38,316.29 577.45,315.88 577.52,315.49 577.59,315.04 577.66,314.62 577.73,314.16 577.80,313.71 577.87,313.30 577.94,312.84 578.02,312.40 578.09,311.94 578.16,311.56 578.23,311.15 578.30,310.68 578.38,310.25 578.46,309.74 578.55,309.35 578.63,308.97 578.71,308.48 578.79,308.12 578.88,307.65 578.96,307.25 579.04,306.78 579.12,306.31 579.21,305.94 579.29,305.54 579.37,305.05 579.45,304.66 579.54,304.18 579.62,303.76 579.70,303.40 579.78,302.91 579.86,302.44 579.95,302.07 580.03,301.62 580.11,301.16 580.19,300.78 580.28,300.20 580.36,299.91 580.44,299.54 580.52,299.04 580.61,298.51 580.69,298.22 580.77,297.83 580.85,297.32 580.94,296.82 581.02,296.40 581.10,296.00 581.20,295.59 581.30,295.22 581.40,294.76 581.50,294.20 581.60,293.88 581.70,293.47 581.80,293.15 581.90,292.60 582.00,292.14 582.10,291.77 582.20,291.38 582.30,290.85 582.40,290.58 582.50,290.10 582.60,289.73 582.70,289.30 582.80,288.87 582.90,288.49 583.00,288.09 583.10,287.56 583.20,287.16 583.30,286.79 583.40,286.33 583.50,285.89 583.61,285.47 583.71,284.99 583.82,284.58 583.92,284.00 584.03,283.76 584.14,283.42 584.24,282.93 584.35,282.50 584.45,282.04 584.56,281.56 584.66,281.20 584.77,280.75 584.88,280.31 584.98,279.90 585.09,279.43 585.19,279.04 585.30,278.71 585.66,279.36 586.02,279.04 586.38,279.61 586.74,279.42 587.10,279.36 587.20,278.68 587.30,278.59 587.40,277.97 587.50,277.87 587.60,277.06 587.70,276.81 587.80,276.35 587.90,275.88 588.00,275.47 588.10,275.15 588.20,274.74 588.30,274.18 588.40,273.89 588.50,273.53 588.60,272.95 588.70,272.41 588.80,271.98 588.90,271.59 589.00,271.16 589.31,271.53 589.62,273.29 589.94,272.62 590.25,272.20 590.39,271.95 590.53,271.54 590.66,271.31 590.80,270.94 590.94,269.88 591.08,270.34 591.22,269.09 591.36,268.94 591.49,268.27 591.63,267.63 591.77,267.19 591.91,267.80 592.05,267.26 592.19,266.18 592.32,265.73 592.46,266.02 592.60,265.04 592.98,265.71 593.36,266.85 593.74,266.33 594.12,266.97 594.50,266.34 594.74,265.18 594.99,265.21 595.23,264.41 595.48,264.99 595.72,263.89 595.97,264.17 596.21,263.52 596.46,263.06 596.70,263.10 596.88,262.36 597.06,261.77 597.24,262.50 597.42,261.51 597.60,260.26 597.78,261.51 597.96,259.56 598.14,260.19 598.32,260.00 598.50,259.28 598.58,258.63 598.66,258.35 598.74,257.91 598.83,257.26 598.91,257.39 598.99,256.54 599.07,256.07 599.15,256.24 599.23,255.21 599.31,254.55 599.39,254.54 599.47,254.13 599.56,253.70 599.64,253.86 599.72,252.67 599.80,252.56 599.92,253.18 600.04,253.83 600.16,253.64 600.28,253.98 600.40,254.45 600.52,255.08 600.65,255.77 600.77,256.47 600.89,255.53 601.01,257.09 601.13,257.23 601.25,257.51 601.43,256.52 601.61,256.93 601.79,255.29 601.96,256.67 602.14,255.01 602.32,255.09 602.50,254.72 602.71,255.55 602.93,254.67 603.14,256.50 603.36,256.62 603.57,257.76 603.79,257.33 604.00,257.49 604.10,256.44 604.20,256.53 604.30,256.79 604.40,255.65 604.50,255.21 604.60,254.90 604.70,254.82 604.80,253.49 604.90,254.29 605.00,253.45 605.10,253.06 605.20,252.39 605.30,252.64 605.40,251.39 605.50,251.30 605.75,251.57 606.00,250.86 606.25,252.10 606.50,253.12 606.75,252.88 606.83,252.37 606.91,252.05 606.98,251.39 607.06,250.90 607.14,250.80 607.22,250.09 607.30,250.09 607.38,249.71 607.45,249.45 607.53,248.93 607.61,248.16 607.69,247.93 607.77,247.06 607.84,247.08 607.92,246.39 608.00,246.25 608.11,246.28 608.21,247.02 608.32,247.10 608.43,248.03 608.54,248.45 608.64,248.27 608.75,249.78 608.86,249.66 608.96,249.38 609.07,250.00 609.18,250.08 609.29,250.44 609.39,251.54 609.50,251.54 609.73,252.65 609.95,251.48 610.17,252.76 610.40,254.68 610.62,253.47 610.85,254.05 611.07,255.36 611.30,254.72 611.70,254.83 612.10,254.17 612.50,254.20 612.90,254.27 613.30,254.08 613.70,253.64 614.10,253.83 614.49,253.92 614.87,253.80 615.26,253.44 615.64,252.92 616.03,253.43 616.41,253.37 616.80,252.80 617.05,251.81 617.31,252.18 617.56,252.25 617.82,251.86 618.07,250.85 618.33,251.35 618.58,250.28 618.84,250.55 619.09,249.77 619.35,249.90 619.60,249.31 619.94,248.93 620.27,249.07 620.61,248.29 620.95,248.17 621.29,247.96 621.62,247.52 621.96,247.99 622.30,247.46 622.46,247.01 622.62,246.42 622.77,246.35 622.93,245.92 623.09,245.61 623.25,245.09 623.41,244.66 623.57,244.63 623.73,243.81 623.88,243.52 624.04,242.79 624.20,242.78 624.34,242.30 624.48,241.93 624.61,241.70 624.75,241.08 624.89,240.87 625.02,240.32 625.16,239.91 625.30,239.25 625.44,239.27 625.58,238.91 625.71,238.21 625.85,237.88 625.99,237.25 626.12,237.12 626.26,236.58 626.40,236.42 626.53,235.94 626.66,235.63 626.80,234.95 626.93,234.38 627.06,234.23 627.19,233.71 627.33,233.69 627.46,232.99 627.59,232.77 627.72,232.19 627.85,231.61 627.99,230.98 628.12,230.77 628.25,230.44 628.44,230.76 628.63,231.20 628.82,231.56 629.01,231.52 629.20,232.26 629.38,231.64 629.56,231.41 629.75,231.33 629.93,230.16 630.11,230.16 630.29,229.89 630.47,229.66 630.66,229.03 630.84,228.42 631.02,228.39 631.20,227.94 631.38,227.00 631.57,227.02 631.75,226.21 631.93,225.59 632.11,225.57 632.29,225.18 632.48,224.50 632.66,225.03 632.84,223.89 633.02,223.88 633.20,223.56 633.39,223.49 633.57,222.51 633.75,222.35 634.00,221.47 634.26,221.46 634.51,220.99 634.76,220.44 635.01,220.51 635.27,220.65 635.52,220.35 635.77,219.54 636.02,218.61 636.28,218.35 636.53,218.44 636.78,218.08 637.04,217.71 637.29,217.09 637.54,216.53 637.79,216.61 638.05,216.10 638.30,215.83 638.44,215.20 638.58,215.07 638.72,214.75 638.86,214.45 639.00,214.03 639.14,213.06 639.28,212.61 639.42,212.44 639.55,211.84 639.69,211.14 639.83,211.44 639.97,210.84 640.11,210.52 640.25,209.95 640.39,209.72 640.53,209.13 640.67,208.69 640.81,208.60 640.95,207.62 641.09,207.52 641.23,206.71 641.37,206.86 641.51,206.13 641.65,205.53 641.78,205.00 641.92,204.88 642.06,204.86 642.20,204.17 642.34,203.38 642.48,202.87 642.62,203.36 642.76,202.31 642.90,201.92 643.03,201.60 643.15,201.26 643.28,201.02 643.41,200.29 643.54,199.78 643.66,199.61 643.79,198.93 643.92,198.71 644.05,198.26 644.17,197.98 644.30,197.28 644.43,196.86 644.55,196.61 644.68,196.22 644.81,195.47 644.94,195.17 645.06,194.92 645.19,194.40 645.32,194.44 645.45,193.76 645.57,193.43 645.70,192.80 645.81,192.38 645.91,191.96 646.02,191.66 646.12,191.03 646.23,190.88 646.34,190.11 646.44,189.94 646.55,189.40 646.65,188.88 646.76,188.73 646.86,188.22 646.97,187.62 647.08,187.10 647.18,186.91 647.29,186.24 647.39,186.01 647.50,185.45 647.63,185.91 647.76,186.12 647.89,186.64 648.01,187.37 648.14,187.78 648.27,187.77 648.40,188.23 648.54,187.52 648.68,187.47 648.82,187.21 648.96,186.42 649.10,186.00 649.25,185.82 649.39,185.23 649.53,184.96 649.67,184.80 649.81,184.18 649.95,183.80 650.09,183.61 650.23,182.89 650.37,182.56 650.51,182.02 650.65,181.45 650.80,181.48 650.94,180.50 651.08,180.36 651.22,179.71 651.36,179.36 651.50,178.99 651.71,179.41 651.93,180.00 652.14,180.61 652.36,180.13 652.57,181.09 652.79,181.30 653.00,181.73 653.26,181.43 653.53,181.22 653.79,180.79 654.06,180.50 654.32,180.94 654.59,179.89 654.85,179.64 655.11,178.80 655.38,179.26 655.64,178.37 655.91,178.19 656.17,177.63 656.44,177.54 656.70,177.15 657.00,176.44 657.30,176.07 657.60,176.11 657.90,175.93 658.20,175.86 658.50,175.87 658.80,175.61 659.10,174.36 659.40,174.00 659.70,174.21 660.00,173.54 660.16,173.45 660.31,173.04 660.47,172.22 660.63,172.19 660.79,171.95 660.94,171.35 661.10,170.80 661.26,170.43 661.41,170.17 661.57,169.52 661.73,169.36 661.89,168.84 662.04,168.34 662.20,168.04 662.36,167.81 662.53,167.08 662.69,166.90 662.85,166.05 663.02,165.98 663.18,165.62 663.35,165.26 663.51,164.96 663.67,164.45 663.84,164.04 664.00,163.48 664.25,163.45 664.50,163.71 664.75,164.15 665.00,164.80 665.25,165.37 665.50,165.33 665.69,164.96 665.89,164.70 666.08,164.03 666.27,163.75 666.47,163.28 666.66,162.96 666.86,162.46 667.05,161.80 667.24,161.62 667.44,161.11 667.63,161.33 667.83,160.86 668.02,159.96 668.21,159.50 668.41,159.31 668.60,158.75 668.86,159.01 669.12,158.24 669.38,157.77 669.64,157.95 669.90,157.70 670.16,156.99 670.42,156.95 670.69,155.71 670.95,155.69 671.21,155.33 671.47,154.74 671.73,155.26 671.99,155.45 672.25,154.21 672.42,153.78 672.59,153.74 672.77,153.04 672.94,152.70 673.11,152.12 673.28,151.98 673.45,151.28 673.62,151.27 673.80,150.82 673.97,150.38 674.14,149.73 674.31,149.45 674.48,149.21 674.66,148.50 674.83,148.08 675.00,147.52 675.15,147.20 675.31,147.00 675.46,147.21 675.61,145.61 675.76,145.07 675.92,146.13 676.07,145.66 676.22,144.02 676.38,143.97 676.53,142.83 676.68,143.40 676.83,143.74 676.99,143.06 677.14,141.63 677.29,141.97 677.44,141.01 677.60,141.18 677.75,140.55 677.82,140.35 677.90,140.10 677.97,139.40 678.04,138.98 678.12,138.55 678.19,138.26 678.26,137.45 678.34,137.09 678.41,136.66 678.49,136.66 678.56,135.89 678.63,135.58 678.71,134.87 678.78,134.15 678.85,134.03 678.93,133.82 679.00,133.18 679.21,132.45 679.43,132.20 679.64,132.46 679.86,132.00 680.07,131.29 680.29,130.21 680.50,130.41 680.62,132.46 680.73,131.28 680.85,132.04 680.96,132.33 681.08,132.03 681.19,133.60 681.31,133.50 681.42,133.51 681.54,134.63 681.65,134.49 681.77,135.29 681.88,135.02 682.00,135.97 682.18,136.02 682.36,134.89 682.54,133.91 682.72,133.88 682.90,134.43 683.08,132.60 683.26,132.32 683.44,133.29 683.62,132.47 683.80,131.98 684.12,131.68 684.45,132.77 684.77,133.41 685.10,132.75 685.21,132.42 685.32,133.80 685.42,133.31 685.53,135.09 685.64,134.64 685.75,135.49 685.86,135.80 685.97,135.84 686.08,137.00 686.18,137.04 686.29,138.23 686.40,137.91 686.56,137.60 686.71,138.43 686.87,137.40 687.02,136.22 687.18,135.37 687.33,136.51 687.49,135.72 687.64,135.32 687.80,134.16 687.94,134.33 688.07,134.61 688.21,136.03 688.35,135.80 688.48,136.62 688.62,135.62 688.75,137.63 688.89,137.17 689.03,136.59 689.16,137.71 689.30,138.87 689.56,139.83 689.81,135.57 690.07,136.50 690.33,137.54 690.59,135.65 690.84,136.34 691.10,136.25 691.23,136.86 691.36,136.53 691.49,137.49 691.62,137.67 691.75,138.55 691.88,138.87 692.01,139.80 692.14,139.86 692.27,141.01 692.40,140.08 692.71,139.99 693.02,140.78 693.33,139.77 693.63,136.55 693.94,139.38 694.25,138.64 694.43,140.83 694.62,139.40 694.81,140.31 694.99,139.53 695.17,141.05 695.36,138.98 695.55,140.58 695.73,141.40 695.91,140.90 696.10,142.72 696.46,142.59 696.82,144.58 697.18,141.37 697.54,142.20 697.90,143.44 698.09,143.31 698.27,144.62 698.45,144.86 698.64,144.26 698.83,145.24 699.01,145.90 699.19,146.06 699.38,146.12 699.57,146.29 699.75,146.97 699.89,147.92 700.03,148.89 700.17,147.51 700.31,148.13 700.44,148.98 700.58,150.22 700.72,149.44 700.86,151.49 701.00,150.97 701.10,150.18 701.20,151.80 701.30,152.19 701.40,152.20 701.50,152.05 701.60,153.30 701.70,153.45 701.80,154.49 701.90,154.66 702.00,154.48 702.10,155.63 702.34,156.10 702.58,155.54 702.81,154.29 703.05,154.50 703.29,153.64 703.52,152.88 703.76,151.69 704.00,152.58 704.37,150.80 704.73,152.82 705.10,151.00 705.47,152.13 705.83,151.57 706.20,151.44 706.40,150.71 706.60,150.54 706.80,151.20 707.00,150.23 707.20,149.49 707.40,149.65 707.60,148.69 707.72,148.74 707.84,149.36 707.95,150.41 708.07,150.39 708.19,150.94 708.31,151.36 708.43,151.60 708.55,152.56 708.66,152.81 708.78,152.71 708.90,153.15 709.27,153.38 709.64,152.67 710.01,153.40 710.38,154.00 710.75,153.40 710.84,153.02 710.92,152.42 711.01,151.91 711.09,151.43 711.18,151.57 711.26,150.63 711.35,150.41 711.43,149.99 711.52,149.64 711.60,149.02 711.69,148.28 711.77,148.76 711.86,147.55 711.94,147.54 712.03,146.69 712.11,146.69 712.20,145.97 712.34,147.18 712.49,147.09 712.63,146.69 712.78,148.39 712.92,147.38 713.07,148.40 713.21,149.38 713.36,149.19 713.50,150.05 713.80,149.47 714.10,148.66 714.40,149.80 714.70,148.54 715.00,147.83 715.30,148.13 715.62,147.99 715.93,147.40 716.25,148.23 716.57,151.11 716.88,151.27 717.20,149.43 717.43,150.59 717.67,151.20 717.90,150.47 718.13,151.44 718.37,150.58 718.60,151.56 718.76,152.44 718.91,152.37 719.07,152.74 719.22,153.10 719.38,153.05 719.53,153.59 719.69,154.20 719.84,154.77 720.00,155.25"/>
</g>
<g stroke="#000" stroke-width="0.9">
<line x1="152.4" y1="540" x2="152.4" y2="535.1"/><line x1="152.4" y1="60" x2="152.4" y2="66.6"/><line x1="290.4" y1="540" x2="290.4" y2="535.1"/><line x1="290.4" y1="60" x2="290.4" y2="66.6"/><line x1="428.4" y1="540" x2="428.4" y2="535.1"/><line x1="428.4" y1="60" x2="428.4" y2="66.6"/><line x1="566.4" y1="540" x2="566.4" y2="535.1"/><line x1="566.4" y1="60" x2="566.4" y2="66.6"/><line x1="704.4" y1="540" x2="704.4" y2="535.1"/><line x1="704.4" y1="60" x2="704.4" y2="66.6"/><line x1="100" y1="99.45" x2="106.6" y2="99.45"/><line x1="720" y1="99.45" x2="715.1" y2="99.45"/><line x1="100" y1="215.45" x2="106.6" y2="215.45"/><line x1="720" y1="215.45" x2="715.1" y2="215.45"/><line x1="100" y1="331.45" x2="106.6" y2="331.45"/><line x1="720" y1="331.45" x2="715.1" y2="331.45"/><line x1="100" y1="447.45" x2="106.6" y2="447.45"/><line x1="720" y1="447.45" x2="715.1" y2="447.45"/>
</g>
<rect x="100.05" y="59.9" width="620" height="479.95" fill="none" stroke="#000" stroke-width="1.4"/>
<rect x="112.5" y="69.5" width="166" height="54.7" fill="#fff" stroke="#000" stroke-width="1.3"/>
<g stroke-width="0.78">
<line x1="128.1" y1="80.4" x2="160.2" y2="80.4" stroke="#800080"/>
<line x1="128.1" y1="98.05" x2="160.2" y2="98.05" stroke="#ffa500"/>
<line x1="128.1" y1="114.4" x2="160.2" y2="114.4" stroke="#008000"/>
</g>
</svg>
<div class="t" id="t1" style="left:260.20px;top:25px;font-size:21.0px;line-height:25.20px;transform:scaleX(0.9012)">APOLLO</div>
<div class="t" id="t2" style="left:342.16px;top:25px;font-size:21.0px;line-height:25.20px;transform:scaleX(1.0500)">Plenum</div>
<div class="t" id="t3" style="left:423.46px;top:25px;font-size:21.0px;line-height:25.20px;transform:scaleX(1.0724)">Temperatures</div>
<div class="t" id="l1" style="left:172.32px;top:70px;font-size:14.4px;line-height:17.28px;transform:scaleX(0.9462)">DI_PLENUM</div>
<div class="t" id="l2" style="left:171.88px;top:87px;font-size:14.4px;line-height:17.28px;transform:scaleX(0.9571)">CAB_PLENUM</div>
<div class="t" id="l3a" style="left:172.12px;top:105px;font-size:14.4px;line-height:17.28px;transform:scaleX(1.1041)">Dome</div>
<div class="t" id="l3b" style="left:219.30px;top:105px;font-size:14.4px;line-height:17.28px;transform:scaleX(1.1594)">Air</div>
<div class="t" id="y15" style="left:77.32px;top:88px;font-size:17.2px;line-height:20.64px;transform:scaleX(1.0203)">15</div>
<div class="t" id="y10" style="left:76.47px;top:204px;font-size:17.2px;line-height:20.64px;transform:scaleX(1.0667)">10</div>
<div class="t" id="y5" style="left:87.05px;top:320px;font-size:17.2px;line-height:20.64px;transform:scaleX(0.9313)">5</div>
<div class="t" id="y0" style="left:85.98px;top:436px;font-size:17.2px;line-height:20.64px;transform:scaleX(1.0242)">0</div>
<div class="t" id="xa0" style="left:131.41px;top:540px;font-size:17.2px;line-height:20.64px;transform:scaleX(1.0341)">15:00</div>
<div class="t" id="xj0" style="left:126.37px;top:554px;font-size:17.2px;line-height:20.64px;transform:scaleX(0.9105)">Jan</div>
<div class="t" id="xd0" style="left:156.81px;top:554px;font-size:17.2px;line-height:20.64px;transform:scaleX(1.0514)">07</div>
<div class="t" id="xa1" style="left:269.02px;top:540px;font-size:17.2px;line-height:20.64px;transform:scaleX(1.0434)">23:00</div>
<div class="t" id="xj1" style="left:264.37px;top:554px;font-size:17.2px;line-height:20.64px;transform:scaleX(0.9105)">Jan</div>
<div class="t" id="xd1" style="left:294.81px;top:554px;font-size:17.2px;line-height:20.64px;transform:scaleX(1.0514)">07</div>
<div class="t" id="xa2" style="left:407.02px;top:540px;font-size:17.2px;line-height:20.64px;transform:scaleX(1.0434)">07:00</div>
<div class="t" id="xj2" style="left:402.37px;top:554px;font-size:17.2px;line-height:20.64px;transform:scaleX(0.9105)">Jan</div>
<div class="t" id="xd2" style="left:432.80px;top:554px;font-size:17.2px;line-height:20.64px;transform:scaleX(1.0629)">08</div>
<div class="t" id="xa3" style="left:545.41px;top:540px;font-size:17.2px;line-height:20.64px;transform:scaleX(1.0341)">15:00</div>
<div class="t" id="xj3" style="left:540.37px;top:554px;font-size:17.2px;line-height:20.64px;transform:scaleX(0.9105)">Jan</div>
<div class="t" id="xd3" style="left:570.80px;top:554px;font-size:17.2px;line-height:20.64px;transform:scaleX(1.0629)">08</div>
<div class="t" id="xa4" style="left:683.02px;top:540px;font-size:17.2px;line-height:20.64px;transform:scaleX(1.0434)">23:00</div>
<div class="t" id="xj4" style="left:678.37px;top:554px;font-size:17.2px;line-height:20.64px;transform:scaleX(0.9105)">Jan</div>
<div class="t" id="xd4" style="left:708.80px;top:554px;font-size:17.2px;line-height:20.64px;transform:scaleX(1.0629)">08</div>
<div class="t" id="xl1" style="left:362.99px;top:576px;font-size:17.2px;line-height:20.64px;transform:scaleX(1.0706)">Date</div>
<div class="t" id="xl2" style="left:406.74px;top:576px;font-size:17.2px;line-height:20.64px;transform:scaleX(1.0105)">(GMT)</div>
<div class="t" id="yl1" style="left:69.40px;top:365.12px;font-size:17.2px;line-height:20.64px;transform:rotate(-90deg) scaleX(1.0457) translateY(-16.00px)">Temperature</div>
<div class="t" id="yl2" style="left:69.40px;top:259.49px;font-size:17.2px;line-height:20.64px;transform:rotate(-90deg) scaleX(0.9885) translateY(-16.00px)">(C)</div>
</body>
</html>
